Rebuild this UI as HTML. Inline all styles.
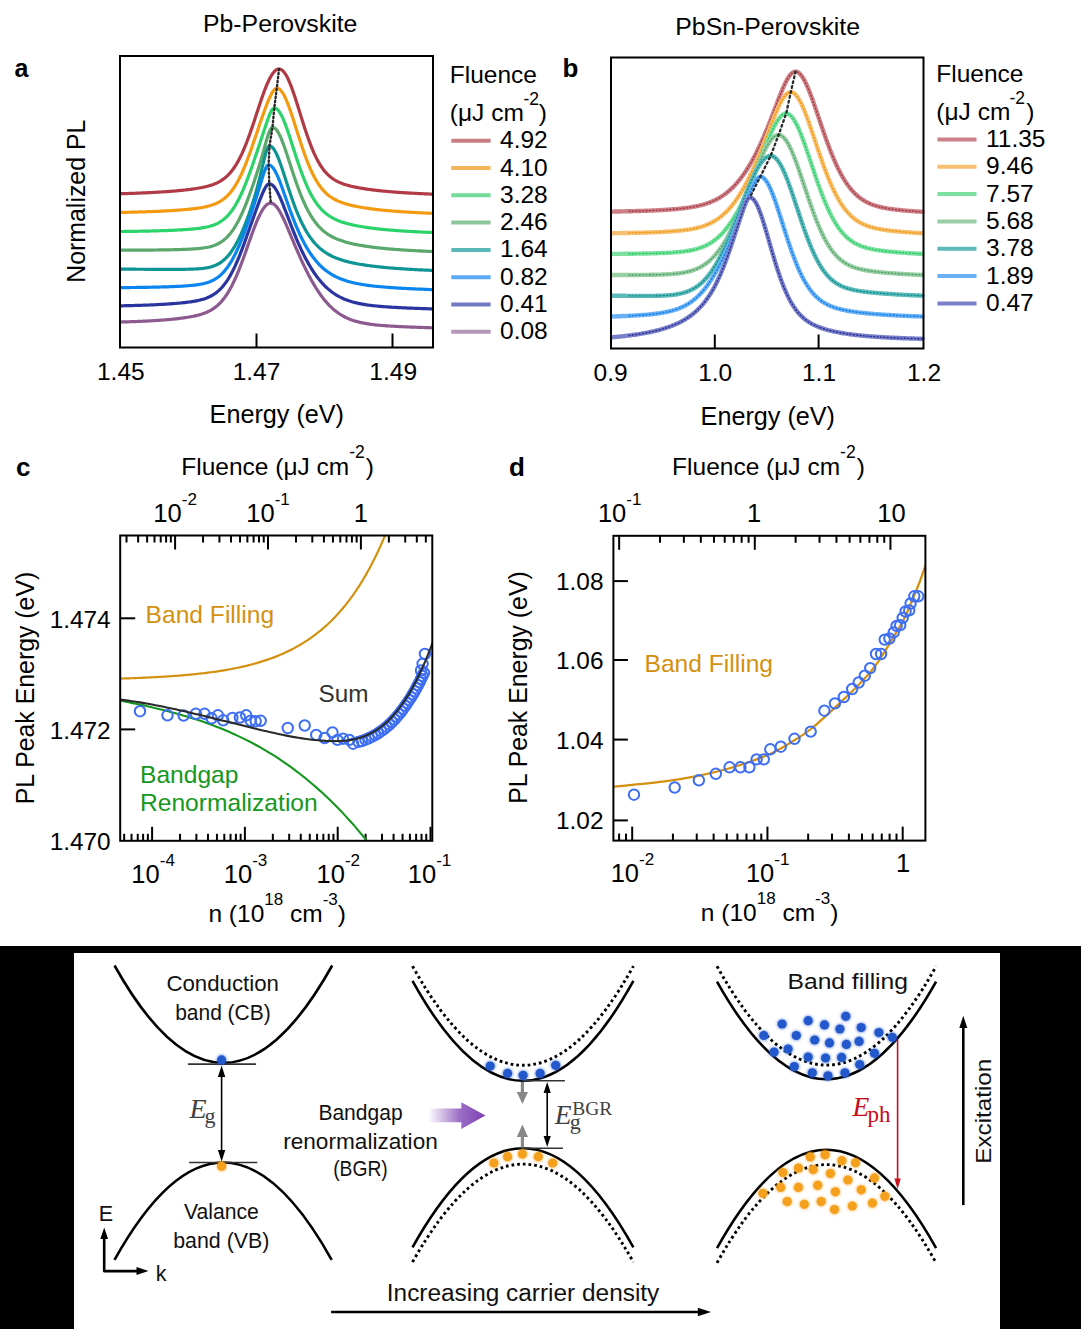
<!DOCTYPE html>
<html><head><meta charset="utf-8"><style>
html,body{margin:0;padding:0;background:#fff;font-family:"Liberation Sans",sans-serif;}
svg{display:block;}

</style></head><body>
<svg font-family="Liberation Sans, sans-serif" width="1081" height="1329" viewBox="0 0 1081 1329">
<rect width="1081" height="1329" fill="#fff"/>
<text x="203.00" y="32.20" font-size="24.8" fill="#000">Pb-Perovskite</text>
<text x="14.50" y="77.00" font-size="25" font-weight="bold" fill="#000">a</text>
<path d="M121.00,193.70 L122.42,193.66 L123.84,193.62 L125.26,193.58 L126.68,193.53 L128.10,193.49 L129.52,193.44 L130.94,193.40 L132.36,193.35 L133.78,193.30 L135.20,193.25 L136.62,193.19 L138.04,193.14 L139.46,193.08 L140.88,193.02 L142.30,192.96 L143.72,192.90 L145.14,192.84 L146.56,192.78 L147.98,192.71 L149.40,192.64 L150.82,192.57 L152.24,192.50 L153.66,192.42 L155.08,192.35 L156.50,192.27 L157.92,192.18 L159.34,192.10 L160.76,192.01 L162.18,191.92 L163.60,191.83 L165.02,191.73 L166.44,191.63 L167.86,191.53 L169.28,191.43 L170.70,191.32 L172.12,191.21 L173.54,191.09 L174.96,190.97 L176.38,190.84 L177.80,190.71 L179.22,190.58 L180.64,190.44 L182.06,190.30 L183.48,190.15 L184.90,190.00 L186.32,189.84 L187.74,189.67 L189.16,189.49 L190.58,189.31 L192.00,189.12 L193.42,188.92 L194.84,188.72 L196.26,188.50 L197.68,188.27 L199.11,188.02 L200.53,187.76 L201.95,187.49 L203.37,187.20 L204.79,186.88 L206.21,186.55 L207.63,186.18 L209.05,185.79 L210.47,185.37 L211.89,184.90 L213.31,184.40 L214.73,183.85 L216.15,183.24 L217.57,182.58 L218.99,181.85 L220.41,181.04 L221.83,180.16 L223.25,179.18 L224.67,178.10 L226.09,176.92 L227.51,175.61 L228.93,174.18 L230.35,172.61 L231.77,170.89 L233.19,169.02 L234.61,166.98 L236.03,164.77 L237.45,162.38 L238.87,159.81 L240.29,157.05 L241.71,154.11 L243.13,150.97 L244.55,147.65 L245.97,144.15 L247.39,140.49 L248.81,136.66 L250.23,132.70 L251.65,128.61 L253.07,124.41 L254.49,120.15 L255.91,115.83 L257.33,111.50 L258.75,107.18 L260.17,102.92 L261.59,98.74 L263.01,94.69 L264.43,90.82 L265.85,87.14 L267.27,83.72 L268.69,80.57 L270.11,77.75 L271.53,75.28 L272.95,73.18 L274.37,71.49 L275.79,70.22 L277.21,69.40 L278.63,69.02 L280.05,69.12 L281.47,69.73 L282.89,70.85 L284.31,72.46 L285.73,74.54 L287.15,77.07 L288.57,80.00 L289.99,83.30 L291.41,86.93 L292.83,90.83 L294.25,94.97 L295.67,99.28 L297.09,103.73 L298.51,108.27 L299.93,112.85 L301.35,117.43 L302.77,121.97 L304.19,126.43 L305.61,130.78 L307.03,134.99 L308.45,139.04 L309.87,142.92 L311.29,146.60 L312.71,150.07 L314.13,153.34 L315.55,156.40 L316.97,159.24 L318.39,161.87 L319.81,164.30 L321.23,166.53 L322.65,168.57 L324.07,170.44 L325.49,172.14 L326.91,173.69 L328.33,175.09 L329.75,176.36 L331.17,177.51 L332.59,178.56 L334.01,179.50 L335.43,180.36 L336.85,181.14 L338.27,181.85 L339.69,182.50 L341.11,183.10 L342.53,183.64 L343.95,184.15 L345.37,184.61 L346.79,185.05 L348.21,185.45 L349.63,185.83 L351.05,186.18 L352.47,186.52 L353.89,186.83 L355.32,187.13 L356.74,187.42 L358.16,187.69 L359.58,187.95 L361.00,188.20 L362.42,188.43 L363.84,188.66 L365.26,188.88 L366.68,189.09 L368.10,189.30 L369.52,189.49 L370.94,189.68 L372.36,189.86 L373.78,190.04 L375.20,190.21 L376.62,190.38 L378.04,190.54 L379.46,190.69 L380.88,190.84 L382.30,190.98 L383.72,191.12 L385.14,191.26 L386.56,191.39 L387.98,191.52 L389.40,191.64 L390.82,191.76 L392.24,191.88 L393.66,191.99 L395.08,192.10 L396.50,192.20 L397.92,192.31 L399.34,192.41 L400.76,192.50 L402.18,192.60 L403.60,192.69 L405.02,192.78 L406.44,192.87 L407.86,192.95 L409.28,193.03 L410.70,193.11 L412.12,193.19 L413.54,193.27 L414.96,193.34 L416.38,193.41 L417.80,193.48 L419.22,193.55 L420.64,193.62 L422.06,193.68 L423.48,193.75 L424.90,193.81 L426.32,193.87 L427.74,193.93 L429.16,193.99 L430.58,194.04 L432.00,194.10" fill="none" stroke="#b03a45" stroke-width="3.2" stroke-linejoin="round" stroke-linecap="round"/>
<path d="M121.00,212.41 L122.42,212.38 L123.84,212.35 L125.26,212.32 L126.68,212.29 L128.10,212.26 L129.52,212.23 L130.94,212.19 L132.36,212.16 L133.78,212.12 L135.20,212.09 L136.62,212.05 L138.04,212.01 L139.46,211.97 L140.88,211.93 L142.30,211.89 L143.72,211.84 L145.14,211.80 L146.56,211.75 L147.98,211.70 L149.40,211.65 L150.82,211.60 L152.24,211.54 L153.66,211.49 L155.08,211.43 L156.50,211.37 L157.92,211.31 L159.34,211.24 L160.76,211.18 L162.18,211.11 L163.60,211.04 L165.02,210.97 L166.44,210.89 L167.86,210.81 L169.28,210.73 L170.70,210.65 L172.12,210.56 L173.54,210.47 L174.96,210.37 L176.38,210.28 L177.80,210.18 L179.22,210.07 L180.64,209.96 L182.06,209.85 L183.48,209.73 L184.90,209.60 L186.32,209.48 L187.74,209.34 L189.16,209.20 L190.58,209.05 L192.00,208.89 L193.42,208.73 L194.84,208.55 L196.26,208.37 L197.68,208.17 L199.11,207.96 L200.53,207.74 L201.95,207.50 L203.37,207.23 L204.79,206.95 L206.21,206.64 L207.63,206.31 L209.05,205.94 L210.47,205.53 L211.89,205.09 L213.31,204.60 L214.73,204.05 L216.15,203.45 L217.57,202.79 L218.99,202.05 L220.41,201.23 L221.83,200.32 L223.25,199.31 L224.67,198.20 L226.09,196.97 L227.51,195.62 L228.93,194.13 L230.35,192.50 L231.77,190.72 L233.19,188.77 L234.61,186.66 L236.03,184.38 L237.45,181.92 L238.87,179.28 L240.29,176.45 L241.71,173.45 L243.13,170.27 L244.55,166.91 L245.97,163.39 L247.39,159.72 L248.81,155.91 L250.23,151.98 L251.65,147.94 L253.07,143.82 L254.49,139.64 L255.91,135.43 L257.33,131.20 L258.75,126.99 L260.17,122.81 L261.59,118.70 L263.01,114.68 L264.43,110.77 L265.85,106.98 L267.27,103.35 L268.69,99.90 L270.11,96.69 L271.53,93.80 L272.95,91.36 L274.37,89.51 L275.79,88.43 L277.21,88.23 L278.63,88.68 L280.05,89.68 L281.47,91.22 L282.89,93.27 L284.31,95.78 L285.73,98.72 L287.15,102.04 L288.57,105.68 L289.99,109.59 L291.41,113.72 L292.83,118.01 L294.25,122.43 L295.67,126.90 L297.09,131.41 L298.51,135.90 L299.93,140.33 L301.35,144.68 L302.77,148.92 L304.19,153.02 L305.61,156.97 L307.03,160.74 L308.45,164.33 L309.87,167.73 L311.29,170.92 L312.71,173.92 L314.13,176.72 L315.55,179.32 L316.97,181.73 L318.39,183.96 L319.81,186.01 L321.23,187.90 L322.65,189.62 L324.07,191.20 L325.49,192.65 L326.91,193.96 L328.33,195.17 L329.75,196.27 L331.17,197.27 L332.59,198.18 L334.01,199.02 L335.43,199.79 L336.85,200.49 L338.27,201.14 L339.69,201.74 L341.11,202.29 L342.53,202.81 L343.95,203.29 L345.37,203.73 L346.79,204.15 L348.21,204.55 L349.63,204.92 L351.05,205.27 L352.47,205.60 L353.89,205.92 L355.32,206.22 L356.74,206.50 L358.16,206.78 L359.58,207.04 L361.00,207.29 L362.42,207.53 L363.84,207.76 L365.26,207.99 L366.68,208.20 L368.10,208.41 L369.52,208.60 L370.94,208.80 L372.36,208.98 L373.78,209.16 L375.20,209.33 L376.62,209.50 L378.04,209.66 L379.46,209.81 L380.88,209.97 L382.30,210.11 L383.72,210.25 L385.14,210.39 L386.56,210.52 L387.98,210.65 L389.40,210.78 L390.82,210.90 L392.24,211.02 L393.66,211.13 L395.08,211.24 L396.50,211.35 L397.92,211.45 L399.34,211.55 L400.76,211.65 L402.18,211.75 L403.60,211.84 L405.02,211.93 L406.44,212.02 L407.86,212.11 L409.28,212.19 L410.70,212.28 L412.12,212.36 L413.54,212.43 L414.96,212.51 L416.38,212.58 L417.80,212.66 L419.22,212.73 L420.64,212.80 L422.06,212.86 L423.48,212.93 L424.90,212.99 L426.32,213.06 L427.74,213.12 L429.16,213.18 L430.58,213.24 L432.00,213.29" fill="none" stroke="#f39a10" stroke-width="3.2" stroke-linejoin="round" stroke-linecap="round"/>
<path d="M121.00,231.51 L122.42,231.49 L123.84,231.48 L125.26,231.46 L126.68,231.44 L128.10,231.42 L129.52,231.40 L130.94,231.38 L132.36,231.36 L133.78,231.34 L135.20,231.32 L136.62,231.29 L138.04,231.27 L139.46,231.25 L140.88,231.22 L142.30,231.19 L143.72,231.16 L145.14,231.13 L146.56,231.10 L147.98,231.07 L149.40,231.04 L150.82,231.00 L152.24,230.97 L153.66,230.93 L155.08,230.89 L156.50,230.85 L157.92,230.81 L159.34,230.77 L160.76,230.72 L162.18,230.68 L163.60,230.63 L165.02,230.58 L166.44,230.53 L167.86,230.47 L169.28,230.41 L170.70,230.35 L172.12,230.29 L173.54,230.23 L174.96,230.16 L176.38,230.09 L177.80,230.02 L179.22,229.94 L180.64,229.86 L182.06,229.78 L183.48,229.69 L184.90,229.60 L186.32,229.51 L187.74,229.40 L189.16,229.30 L190.58,229.18 L192.00,229.06 L193.42,228.93 L194.84,228.79 L196.26,228.64 L197.68,228.47 L199.11,228.30 L200.53,228.10 L201.95,227.89 L203.37,227.66 L204.79,227.41 L206.21,227.12 L207.63,226.81 L209.05,226.46 L210.47,226.07 L211.89,225.64 L213.31,225.15 L214.73,224.61 L216.15,224.00 L217.57,223.32 L218.99,222.56 L220.41,221.72 L221.83,220.78 L223.25,219.73 L224.67,218.57 L226.09,217.29 L227.51,215.87 L228.93,214.32 L230.35,212.62 L231.77,210.76 L233.19,208.74 L234.61,206.55 L236.03,204.19 L237.45,201.65 L238.87,198.94 L240.29,196.06 L241.71,193.00 L243.13,189.78 L244.55,186.40 L245.97,182.87 L247.39,179.20 L248.81,175.40 L250.23,171.50 L251.65,167.50 L253.07,163.42 L254.49,159.28 L255.91,155.09 L257.33,150.87 L258.75,146.62 L260.17,142.34 L261.59,138.06 L263.01,133.76 L264.43,129.46 L265.85,125.18 L267.27,120.99 L268.69,117.00 L270.11,113.41 L271.53,110.51 L272.95,108.61 L274.37,108.00 L275.79,108.34 L277.21,109.28 L278.63,110.80 L280.05,112.85 L281.47,115.39 L282.89,118.38 L284.31,121.75 L285.73,125.44 L287.15,129.39 L288.57,133.54 L289.99,137.83 L291.41,142.22 L292.83,146.64 L294.25,151.07 L295.67,155.46 L297.09,159.78 L298.51,164.00 L299.93,168.10 L301.35,172.06 L302.77,175.86 L304.19,179.49 L305.61,182.94 L307.03,186.21 L308.45,189.29 L309.87,192.18 L311.29,194.89 L312.71,197.42 L314.13,199.77 L315.55,201.95 L316.97,203.96 L318.39,205.83 L319.81,207.55 L321.23,209.13 L322.65,210.58 L324.07,211.92 L325.49,213.15 L326.91,214.27 L328.33,215.31 L329.75,216.26 L331.17,217.14 L332.59,217.95 L334.01,218.70 L335.43,219.39 L336.85,220.03 L338.27,220.63 L339.69,221.18 L341.11,221.70 L342.53,222.18 L343.95,222.64 L345.37,223.07 L346.79,223.47 L348.21,223.85 L349.63,224.21 L351.05,224.55 L352.47,224.88 L353.89,225.19 L355.32,225.48 L356.74,225.76 L358.16,226.03 L359.58,226.29 L361.00,226.54 L362.42,226.78 L363.84,227.01 L365.26,227.23 L366.68,227.44 L368.10,227.64 L369.52,227.84 L370.94,228.03 L372.36,228.21 L373.78,228.39 L375.20,228.56 L376.62,228.72 L378.04,228.88 L379.46,229.04 L380.88,229.19 L382.30,229.33 L383.72,229.47 L385.14,229.60 L386.56,229.74 L387.98,229.86 L389.40,229.99 L390.82,230.11 L392.24,230.22 L393.66,230.34 L395.08,230.45 L396.50,230.55 L397.92,230.66 L399.34,230.76 L400.76,230.85 L402.18,230.95 L403.60,231.04 L405.02,231.13 L406.44,231.22 L407.86,231.31 L409.28,231.39 L410.70,231.47 L412.12,231.55 L413.54,231.63 L414.96,231.71 L416.38,231.78 L417.80,231.85 L419.22,231.92 L420.64,231.99 L422.06,232.06 L423.48,232.13 L424.90,232.19 L426.32,232.25 L427.74,232.32 L429.16,232.38 L430.58,232.43 L432.00,232.49" fill="none" stroke="#2bd36a" stroke-width="3.2" stroke-linejoin="round" stroke-linecap="round"/>
<path d="M121.00,250.21 L122.42,250.21 L123.84,250.21 L125.26,250.20 L126.68,250.20 L128.10,250.20 L129.52,250.19 L130.94,250.19 L132.36,250.18 L133.78,250.18 L135.20,250.17 L136.62,250.17 L138.04,250.16 L139.46,250.15 L140.88,250.14 L142.30,250.14 L143.72,250.13 L145.14,250.12 L146.56,250.10 L147.98,250.09 L149.40,250.08 L150.82,250.07 L152.24,250.05 L153.66,250.04 L155.08,250.02 L156.50,250.00 L157.92,249.99 L159.34,249.97 L160.76,249.95 L162.18,249.93 L163.60,249.90 L165.02,249.88 L166.44,249.85 L167.86,249.83 L169.28,249.80 L170.70,249.77 L172.12,249.74 L173.54,249.71 L174.96,249.67 L176.38,249.63 L177.80,249.60 L179.22,249.55 L180.64,249.51 L182.06,249.46 L183.48,249.41 L184.90,249.36 L186.32,249.30 L187.74,249.24 L189.16,249.17 L190.58,249.10 L192.00,249.02 L193.42,248.93 L194.84,248.83 L196.26,248.73 L197.68,248.61 L199.11,248.47 L200.53,248.33 L201.95,248.16 L203.37,247.97 L204.79,247.76 L206.21,247.52 L207.63,247.25 L209.05,246.94 L210.47,246.59 L211.89,246.19 L213.31,245.74 L214.73,245.23 L216.15,244.65 L217.57,244.00 L218.99,243.27 L220.41,242.44 L221.83,241.52 L223.25,240.49 L224.67,239.35 L226.09,238.08 L227.51,236.68 L228.93,235.13 L230.35,233.44 L231.77,231.59 L233.19,229.59 L234.61,227.42 L236.03,225.07 L237.45,222.56 L238.87,219.88 L240.29,217.03 L241.71,214.02 L243.13,210.84 L244.55,207.51 L245.97,204.04 L247.39,200.42 L248.81,196.68 L250.23,192.81 L251.65,188.83 L253.07,184.74 L254.49,180.55 L255.91,176.25 L257.33,171.84 L258.75,167.30 L260.17,162.63 L261.59,157.81 L263.01,152.84 L264.43,147.76 L265.85,142.66 L267.27,137.73 L268.69,133.30 L270.11,129.80 L271.53,127.72 L272.95,127.34 L274.37,127.88 L275.79,129.05 L277.21,130.82 L278.63,133.14 L280.05,135.96 L281.47,139.20 L282.89,142.80 L284.31,146.69 L285.73,150.80 L287.15,155.05 L288.57,159.41 L289.99,163.80 L291.41,168.19 L292.83,172.54 L294.25,176.81 L295.67,180.98 L297.09,185.02 L298.51,188.92 L299.93,192.66 L301.35,196.24 L302.77,199.65 L304.19,202.88 L305.61,205.93 L307.03,208.80 L308.45,211.51 L309.87,214.04 L311.29,216.41 L312.71,218.61 L314.13,220.67 L315.55,222.58 L316.97,224.35 L318.39,225.99 L319.81,227.51 L321.23,228.92 L322.65,230.22 L324.07,231.43 L325.49,232.54 L326.91,233.57 L328.33,234.52 L329.75,235.41 L331.17,236.23 L332.59,236.99 L334.01,237.70 L335.43,238.36 L336.85,238.98 L338.27,239.56 L339.69,240.10 L341.11,240.60 L342.53,241.08 L343.95,241.53 L345.37,241.96 L346.79,242.36 L348.21,242.74 L349.63,243.10 L351.05,243.44 L352.47,243.77 L353.89,244.08 L355.32,244.38 L356.74,244.66 L358.16,244.94 L359.58,245.20 L361.00,245.45 L362.42,245.69 L363.84,245.92 L365.26,246.14 L366.68,246.35 L368.10,246.56 L369.52,246.76 L370.94,246.95 L372.36,247.13 L373.78,247.31 L375.20,247.48 L376.62,247.65 L378.04,247.81 L379.46,247.97 L380.88,248.12 L382.30,248.26 L383.72,248.40 L385.14,248.54 L386.56,248.67 L387.98,248.80 L389.40,248.93 L390.82,249.05 L392.24,249.17 L393.66,249.28 L395.08,249.39 L396.50,249.50 L397.92,249.60 L399.34,249.71 L400.76,249.81 L402.18,249.90 L403.60,250.00 L405.02,250.09 L406.44,250.18 L407.86,250.27 L409.28,250.35 L410.70,250.44 L412.12,250.52 L413.54,250.60 L414.96,250.68 L416.38,250.75 L417.80,250.83 L419.22,250.90 L420.64,250.97 L422.06,251.04 L423.48,251.11 L424.90,251.18 L426.32,251.24 L427.74,251.31 L429.16,251.37 L430.58,251.43 L432.00,251.49" fill="none" stroke="#5aa86c" stroke-width="3.2" stroke-linejoin="round" stroke-linecap="round"/>
<path d="M121.00,269.11 L122.42,269.12 L123.84,269.13 L125.26,269.15 L126.68,269.16 L128.10,269.17 L129.52,269.18 L130.94,269.19 L132.36,269.20 L133.78,269.21 L135.20,269.22 L136.62,269.23 L138.04,269.24 L139.46,269.25 L140.88,269.26 L142.30,269.27 L143.72,269.27 L145.14,269.28 L146.56,269.29 L147.98,269.30 L149.40,269.31 L150.82,269.31 L152.24,269.32 L153.66,269.33 L155.08,269.33 L156.50,269.34 L157.92,269.34 L159.34,269.35 L160.76,269.35 L162.18,269.35 L163.60,269.36 L165.02,269.36 L166.44,269.36 L167.86,269.36 L169.28,269.36 L170.70,269.36 L172.12,269.36 L173.54,269.36 L174.96,269.36 L176.38,269.35 L177.80,269.35 L179.22,269.34 L180.64,269.33 L182.06,269.32 L183.48,269.31 L184.90,269.29 L186.32,269.27 L187.74,269.24 L189.16,269.21 L190.58,269.18 L192.00,269.13 L193.42,269.08 L194.84,269.02 L196.26,268.95 L197.68,268.87 L199.11,268.77 L200.53,268.65 L201.95,268.51 L203.37,268.35 L204.79,268.15 L206.21,267.93 L207.63,267.67 L209.05,267.36 L210.47,267.01 L211.89,266.61 L213.31,266.14 L214.73,265.61 L216.15,264.99 L217.57,264.30 L218.99,263.52 L220.41,262.63 L221.83,261.64 L223.25,260.53 L224.67,259.29 L226.09,257.92 L227.51,256.41 L228.93,254.75 L230.35,252.94 L231.77,250.97 L233.19,248.84 L234.61,246.54 L236.03,244.08 L237.45,241.44 L238.87,238.64 L240.29,235.67 L241.71,232.54 L243.13,229.25 L244.55,225.81 L245.97,222.21 L247.39,218.45 L248.81,214.55 L250.23,210.48 L251.65,206.25 L253.07,201.84 L254.49,197.22 L255.91,192.37 L257.33,187.26 L258.75,181.86 L260.17,176.17 L261.59,170.21 L263.01,164.13 L264.43,158.19 L265.85,152.82 L267.27,148.64 L268.69,146.27 L270.11,145.97 L271.53,146.63 L272.95,147.96 L274.37,149.91 L275.79,152.44 L277.21,155.47 L278.63,158.92 L280.05,162.71 L281.47,166.77 L282.89,171.01 L284.31,175.37 L285.73,179.78 L287.15,184.19 L288.57,188.55 L289.99,192.84 L291.41,197.02 L292.83,201.06 L294.25,204.96 L295.67,208.70 L297.09,212.27 L298.51,215.67 L299.93,218.90 L301.35,221.95 L302.77,224.84 L304.19,227.56 L305.61,230.11 L307.03,232.51 L308.45,234.76 L309.87,236.87 L311.29,238.84 L312.71,240.68 L314.13,242.39 L315.55,243.99 L316.97,245.48 L318.39,246.87 L319.81,248.16 L321.23,249.37 L322.65,250.49 L324.07,251.53 L325.49,252.50 L326.91,253.41 L328.33,254.25 L329.75,255.04 L331.17,255.78 L332.59,256.47 L334.01,257.12 L335.43,257.73 L336.85,258.30 L338.27,258.83 L339.69,259.34 L341.11,259.82 L342.53,260.27 L343.95,260.69 L345.37,261.10 L346.79,261.48 L348.21,261.85 L349.63,262.19 L351.05,262.52 L352.47,262.84 L353.89,263.14 L355.32,263.43 L356.74,263.70 L358.16,263.96 L359.58,264.22 L361.00,264.46 L362.42,264.69 L363.84,264.92 L365.26,265.13 L366.68,265.34 L368.10,265.54 L369.52,265.73 L370.94,265.92 L372.36,266.10 L373.78,266.27 L375.20,266.44 L376.62,266.60 L378.04,266.76 L379.46,266.91 L380.88,267.06 L382.30,267.20 L383.72,267.34 L385.14,267.47 L386.56,267.60 L387.98,267.73 L389.40,267.85 L390.82,267.97 L392.24,268.08 L393.66,268.20 L395.08,268.31 L396.50,268.41 L397.92,268.52 L399.34,268.62 L400.76,268.72 L402.18,268.81 L403.60,268.90 L405.02,269.00 L406.44,269.08 L407.86,269.17 L409.28,269.26 L410.70,269.34 L412.12,269.42 L413.54,269.50 L414.96,269.58 L416.38,269.65 L417.80,269.73 L419.22,269.80 L420.64,269.87 L422.06,269.94 L423.48,270.01 L424.90,270.07 L426.32,270.14 L427.74,270.20 L429.16,270.27 L430.58,270.33 L432.00,270.39" fill="none" stroke="#0f9494" stroke-width="3.2" stroke-linejoin="round" stroke-linecap="round"/>
<path d="M121.00,287.61 L122.42,287.60 L123.84,287.59 L125.26,287.58 L126.68,287.56 L128.10,287.55 L129.52,287.54 L130.94,287.52 L132.36,287.51 L133.78,287.49 L135.20,287.48 L136.62,287.46 L138.04,287.44 L139.46,287.42 L140.88,287.40 L142.30,287.38 L143.72,287.36 L145.14,287.34 L146.56,287.31 L147.98,287.29 L149.40,287.26 L150.82,287.23 L152.24,287.20 L153.66,287.17 L155.08,287.14 L156.50,287.11 L157.92,287.08 L159.34,287.04 L160.76,287.00 L162.18,286.96 L163.60,286.92 L165.02,286.88 L166.44,286.83 L167.86,286.78 L169.28,286.73 L170.70,286.68 L172.12,286.63 L173.54,286.57 L174.96,286.51 L176.38,286.45 L177.80,286.38 L179.22,286.31 L180.64,286.23 L182.06,286.15 L183.48,286.07 L184.90,285.98 L186.32,285.88 L187.74,285.77 L189.16,285.66 L190.58,285.53 L192.00,285.40 L193.42,285.25 L194.84,285.08 L196.26,284.90 L197.68,284.70 L199.11,284.48 L200.53,284.23 L201.95,283.95 L203.37,283.64 L204.79,283.29 L206.21,282.90 L207.63,282.46 L209.05,281.97 L210.47,281.41 L211.89,280.79 L213.31,280.10 L214.73,279.32 L216.15,278.44 L217.57,277.48 L218.99,276.40 L220.41,275.21 L221.83,273.89 L223.25,272.44 L224.67,270.85 L226.09,269.12 L227.51,267.23 L228.93,265.18 L230.35,262.97 L231.77,260.59 L233.19,258.05 L234.61,255.34 L236.03,252.47 L237.45,249.44 L238.87,246.25 L240.29,242.91 L241.71,239.44 L243.13,235.83 L244.55,232.10 L245.97,228.27 L247.39,224.33 L248.81,220.31 L250.23,216.20 L251.65,212.01 L253.07,207.73 L254.49,203.37 L255.91,198.92 L257.33,194.36 L258.75,189.70 L260.17,184.95 L261.59,180.19 L263.01,175.57 L264.43,171.35 L265.85,167.89 L267.27,165.62 L268.69,164.90 L270.11,165.26 L271.53,166.22 L272.95,167.76 L274.37,169.83 L275.79,172.37 L277.21,175.33 L278.63,178.62 L280.05,182.19 L281.47,185.97 L282.89,189.89 L284.31,193.91 L285.73,197.96 L287.15,202.01 L288.57,206.03 L289.99,209.98 L291.41,213.85 L292.83,217.61 L294.25,221.26 L295.67,224.79 L297.09,228.18 L298.51,231.45 L299.93,234.57 L301.35,237.56 L302.77,240.41 L304.19,243.12 L305.61,245.70 L307.03,248.16 L308.45,250.48 L309.87,252.69 L311.29,254.78 L312.71,256.75 L314.13,258.61 L315.55,260.37 L316.97,262.03 L318.39,263.60 L319.81,265.07 L321.23,266.46 L322.65,267.76 L324.07,268.99 L325.49,270.14 L326.91,271.23 L328.33,272.24 L329.75,273.20 L331.17,274.10 L332.59,274.94 L334.01,275.73 L335.43,276.47 L336.85,277.17 L338.27,277.83 L339.69,278.44 L341.11,279.02 L342.53,279.56 L343.95,280.07 L345.37,280.55 L346.79,281.00 L348.21,281.42 L349.63,281.82 L351.05,282.20 L352.47,282.55 L353.89,282.88 L355.32,283.20 L356.74,283.50 L358.16,283.78 L359.58,284.04 L361.00,284.29 L362.42,284.53 L363.84,284.76 L365.26,284.97 L366.68,285.18 L368.10,285.37 L369.52,285.56 L370.94,285.73 L372.36,285.90 L373.78,286.06 L375.20,286.22 L376.62,286.37 L378.04,286.51 L379.46,286.64 L380.88,286.77 L382.30,286.90 L383.72,287.02 L385.14,287.14 L386.56,287.25 L387.98,287.36 L389.40,287.46 L390.82,287.57 L392.24,287.67 L393.66,287.76 L395.08,287.85 L396.50,287.94 L397.92,288.03 L399.34,288.12 L400.76,288.20 L402.18,288.28 L403.60,288.36 L405.02,288.43 L406.44,288.51 L407.86,288.58 L409.28,288.65 L410.70,288.72 L412.12,288.79 L413.54,288.85 L414.96,288.92 L416.38,288.98 L417.80,289.04 L419.22,289.10 L420.64,289.16 L422.06,289.22 L423.48,289.27 L424.90,289.33 L426.32,289.38 L427.74,289.44 L429.16,289.49 L430.58,289.54 L432.00,289.59" fill="none" stroke="#0a85f0" stroke-width="3.2" stroke-linejoin="round" stroke-linecap="round"/>
<path d="M121.00,305.81 L122.42,305.78 L123.84,305.75 L125.26,305.72 L126.68,305.69 L128.10,305.65 L129.52,305.62 L130.94,305.58 L132.36,305.55 L133.78,305.51 L135.20,305.47 L136.62,305.43 L138.04,305.38 L139.46,305.34 L140.88,305.29 L142.30,305.25 L143.72,305.20 L145.14,305.15 L146.56,305.09 L147.98,305.04 L149.40,304.98 L150.82,304.92 L152.24,304.86 L153.66,304.80 L155.08,304.73 L156.50,304.66 L157.92,304.59 L159.34,304.52 L160.76,304.44 L162.18,304.36 L163.60,304.28 L165.02,304.20 L166.44,304.11 L167.86,304.02 L169.28,303.92 L170.70,303.82 L172.12,303.72 L173.54,303.61 L174.96,303.50 L176.38,303.38 L177.80,303.26 L179.22,303.13 L180.64,303.00 L182.06,302.86 L183.48,302.71 L184.90,302.55 L186.32,302.39 L187.74,302.21 L189.16,302.02 L190.58,301.82 L192.00,301.61 L193.42,301.38 L194.84,301.13 L196.26,300.86 L197.68,300.57 L199.11,300.25 L200.53,299.91 L201.95,299.52 L203.37,299.11 L204.79,298.65 L206.21,298.14 L207.63,297.58 L209.05,296.96 L210.47,296.27 L211.89,295.51 L213.31,294.67 L214.73,293.74 L216.15,292.72 L217.57,291.59 L218.99,290.34 L220.41,288.98 L221.83,287.48 L223.25,285.84 L224.67,284.06 L226.09,282.13 L227.51,280.04 L228.93,277.78 L230.35,275.36 L231.77,272.77 L233.19,270.00 L234.61,267.08 L236.03,263.99 L237.45,260.74 L238.87,257.34 L240.29,253.80 L241.71,250.14 L243.13,246.37 L244.55,242.50 L245.97,238.56 L247.39,234.56 L248.81,230.53 L250.23,226.48 L251.65,222.43 L253.07,218.41 L254.49,214.43 L255.91,210.50 L257.33,206.63 L258.75,202.85 L260.17,199.16 L261.59,195.62 L263.01,192.27 L264.43,189.24 L265.85,186.69 L267.27,184.84 L268.69,183.89 L270.11,183.89 L271.53,184.48 L272.95,185.58 L274.37,187.17 L275.79,189.20 L277.21,191.63 L278.63,194.40 L280.05,197.46 L281.47,200.75 L282.89,204.20 L284.31,207.79 L285.73,211.46 L287.15,215.17 L288.57,218.89 L289.99,222.59 L291.41,226.26 L292.83,229.87 L294.25,233.42 L295.67,236.88 L297.09,240.26 L298.51,243.54 L299.93,246.72 L301.35,249.80 L302.77,252.78 L304.19,255.65 L305.61,258.41 L307.03,261.07 L308.45,263.62 L309.87,266.06 L311.29,268.40 L312.71,270.64 L314.13,272.78 L315.55,274.82 L316.97,276.77 L318.39,278.61 L319.81,280.37 L321.23,282.04 L322.65,283.62 L324.07,285.12 L325.49,286.54 L326.91,287.87 L328.33,289.14 L329.75,290.33 L331.17,291.45 L332.59,292.51 L334.01,293.50 L335.43,294.43 L336.85,295.31 L338.27,296.13 L339.69,296.90 L341.11,297.61 L342.53,298.29 L343.95,298.92 L345.37,299.51 L346.79,300.05 L348.21,300.57 L349.63,301.05 L351.05,301.49 L352.47,301.91 L353.89,302.30 L355.32,302.67 L356.74,303.01 L358.16,303.32 L359.58,303.62 L361.00,303.90 L362.42,304.16 L363.84,304.40 L365.26,304.63 L366.68,304.84 L368.10,305.05 L369.52,305.23 L370.94,305.41 L372.36,305.58 L373.78,305.74 L375.20,305.89 L376.62,306.03 L378.04,306.17 L379.46,306.30 L380.88,306.42 L382.30,306.54 L383.72,306.65 L385.14,306.76 L386.56,306.86 L387.98,306.96 L389.40,307.05 L390.82,307.14 L392.24,307.23 L393.66,307.31 L395.08,307.39 L396.50,307.47 L397.92,307.55 L399.34,307.62 L400.76,307.70 L402.18,307.77 L403.60,307.83 L405.02,307.90 L406.44,307.96 L407.86,308.03 L409.28,308.09 L410.70,308.15 L412.12,308.20 L413.54,308.26 L414.96,308.31 L416.38,308.37 L417.80,308.42 L419.22,308.47 L420.64,308.52 L422.06,308.57 L423.48,308.62 L424.90,308.67 L426.32,308.71 L427.74,308.76 L429.16,308.80 L430.58,308.85 L432.00,308.89" fill="none" stroke="#2a35a0" stroke-width="3.2" stroke-linejoin="round" stroke-linecap="round"/>
<path d="M121.00,322.01 L122.42,321.97 L123.84,321.94 L125.26,321.89 L126.68,321.85 L128.10,321.81 L129.52,321.76 L130.94,321.72 L132.36,321.67 L133.78,321.62 L135.20,321.56 L136.62,321.51 L138.04,321.45 L139.46,321.39 L140.88,321.33 L142.30,321.27 L143.72,321.20 L145.14,321.13 L146.56,321.06 L147.98,320.99 L149.40,320.91 L150.82,320.84 L152.24,320.75 L153.66,320.67 L155.08,320.58 L156.50,320.49 L157.92,320.40 L159.34,320.30 L160.76,320.20 L162.18,320.09 L163.60,319.98 L165.02,319.87 L166.44,319.75 L167.86,319.63 L169.28,319.50 L170.70,319.37 L172.12,319.23 L173.54,319.09 L174.96,318.94 L176.38,318.79 L177.80,318.62 L179.22,318.46 L180.64,318.28 L182.06,318.09 L183.48,317.90 L184.90,317.70 L186.32,317.48 L187.74,317.26 L189.16,317.02 L190.58,316.77 L192.00,316.50 L193.42,316.22 L194.84,315.91 L196.26,315.58 L197.68,315.23 L199.11,314.86 L200.53,314.45 L201.95,314.01 L203.37,313.52 L204.79,313.00 L206.21,312.43 L207.63,311.80 L209.05,311.12 L210.47,310.36 L211.89,309.54 L213.31,308.63 L214.73,307.64 L216.15,306.55 L217.57,305.36 L218.99,304.05 L220.41,302.62 L221.83,301.06 L223.25,299.36 L224.67,297.51 L226.09,295.51 L227.51,293.35 L228.93,291.03 L230.35,288.54 L231.77,285.88 L233.19,283.04 L234.61,280.04 L236.03,276.87 L237.45,273.54 L238.87,270.06 L240.29,266.45 L241.71,262.70 L243.13,258.85 L244.55,254.92 L245.97,250.92 L247.39,246.88 L248.81,242.84 L250.23,238.81 L251.65,234.84 L253.07,230.96 L254.49,227.19 L255.91,223.59 L257.33,220.17 L258.75,216.99 L260.17,214.06 L261.59,211.43 L263.01,209.11 L264.43,207.15 L265.85,205.55 L267.27,204.34 L268.69,203.53 L270.11,203.14 L271.53,203.17 L272.95,203.64 L274.37,204.56 L275.79,205.89 L277.21,207.61 L278.63,209.67 L280.05,212.04 L281.47,214.67 L282.89,217.51 L284.31,220.53 L285.73,223.69 L287.15,226.94 L288.57,230.27 L289.99,233.63 L291.41,237.02 L292.83,240.41 L294.25,243.78 L295.67,247.13 L297.09,250.43 L298.51,253.69 L299.93,256.90 L301.35,260.04 L302.77,263.11 L304.19,266.12 L305.61,269.05 L307.03,271.90 L308.45,274.67 L309.87,277.36 L311.29,279.96 L312.71,282.48 L314.13,284.90 L315.55,287.24 L316.97,289.50 L318.39,291.66 L319.81,293.73 L321.23,295.71 L322.65,297.60 L324.07,299.41 L325.49,301.13 L326.91,302.77 L328.33,304.32 L329.75,305.79 L331.17,307.18 L332.59,308.49 L334.01,309.73 L335.43,310.89 L336.85,311.98 L338.27,313.01 L339.69,313.98 L341.11,314.88 L342.53,315.72 L343.95,316.51 L345.37,317.24 L346.79,317.93 L348.21,318.56 L349.63,319.15 L351.05,319.70 L352.47,320.21 L353.89,320.69 L355.32,321.13 L356.74,321.54 L358.16,321.92 L359.58,322.27 L361.00,322.59 L362.42,322.89 L363.84,323.17 L365.26,323.43 L366.68,323.68 L368.10,323.90 L369.52,324.11 L370.94,324.31 L372.36,324.49 L373.78,324.66 L375.20,324.82 L376.62,324.97 L378.04,325.11 L379.46,325.24 L380.88,325.37 L382.30,325.49 L383.72,325.60 L385.14,325.71 L386.56,325.81 L387.98,325.90 L389.40,326.00 L390.82,326.08 L392.24,326.17 L393.66,326.25 L395.08,326.33 L396.50,326.41 L397.92,326.48 L399.34,326.55 L400.76,326.62 L402.18,326.69 L403.60,326.75 L405.02,326.81 L406.44,326.88 L407.86,326.94 L409.28,326.99 L410.70,327.05 L412.12,327.11 L413.54,327.16 L414.96,327.22 L416.38,327.27 L417.80,327.32 L419.22,327.37 L420.64,327.42 L422.06,327.47 L423.48,327.52 L424.90,327.56 L426.32,327.61 L427.74,327.65 L429.16,327.70 L430.58,327.74 L432.00,327.79" fill="none" stroke="#8d5a90" stroke-width="3.2" stroke-linejoin="round" stroke-linecap="round"/>
<path d="M279.10,69.00 L276.80,88.20 L274.30,108.00 L272.50,127.30 L269.50,145.90 L268.60,164.90 L269.30,183.80 L270.80,203.10" fill="none" stroke="#2a2a2a" stroke-width="2.4" stroke-linejoin="round" stroke-linecap="round" stroke-dasharray="1.4 2.6" stroke-linecap="butt"/>
<rect x="120" y="56" width="313" height="291.5" fill="none" stroke="#000" stroke-width="2"/>
<line x1="256.50" y1="347.50" x2="256.50" y2="333.50" stroke="#000" stroke-width="2"/>
<line x1="392.50" y1="347.50" x2="392.50" y2="333.50" stroke="#000" stroke-width="2"/>
<text x="120.80" y="379.50" font-size="24.5" text-anchor="middle" fill="#000">1.45</text>
<text x="256.50" y="379.50" font-size="24.5" text-anchor="middle" fill="#000">1.47</text>
<text x="393.20" y="379.50" font-size="24.5" text-anchor="middle" fill="#000">1.49</text>
<text x="276.80" y="422.60" font-size="25.2" text-anchor="middle" fill="#000">Energy (eV)</text>
<text x="0.00" y="0.00" font-size="24.9" text-anchor="middle" fill="#000" transform="translate(84.8,201.2) rotate(-90)">Normalized PL</text>
<text x="449.80" y="83.00" font-size="24.5" fill="#000">Fluence</text>
<text x="449.80" y="121.00" font-size="24.5" fill="#000">(μJ cm</text>
<text x="523.50" y="104.50" font-size="17.5" fill="#000">-2</text>
<text x="538.70" y="121.00" font-size="24.5" fill="#000">)</text>
<line x1="451.30" y1="140.80" x2="490.60" y2="140.80" stroke="#c97d82" stroke-width="4"/>
<text x="500.00" y="148.30" font-size="24.5" fill="#000">4.92</text>
<line x1="451.30" y1="168.07" x2="490.60" y2="168.07" stroke="#f5b55a" stroke-width="4"/>
<text x="500.00" y="175.57" font-size="24.5" fill="#000">4.10</text>
<line x1="451.30" y1="195.34" x2="490.60" y2="195.34" stroke="#72dc98" stroke-width="4"/>
<text x="500.00" y="202.84" font-size="24.5" fill="#000">3.28</text>
<line x1="451.30" y1="222.61" x2="490.60" y2="222.61" stroke="#8fc59a" stroke-width="4"/>
<text x="500.00" y="230.11" font-size="24.5" fill="#000">2.46</text>
<line x1="451.30" y1="249.88" x2="490.60" y2="249.88" stroke="#5ab8b8" stroke-width="4"/>
<text x="500.00" y="257.38" font-size="24.5" fill="#000">1.64</text>
<line x1="451.30" y1="277.15" x2="490.60" y2="277.15" stroke="#5aaaf5" stroke-width="4"/>
<text x="500.00" y="284.65" font-size="24.5" fill="#000">0.82</text>
<line x1="451.30" y1="304.42" x2="490.60" y2="304.42" stroke="#7278c2" stroke-width="4"/>
<text x="500.00" y="311.92" font-size="24.5" fill="#000">0.41</text>
<line x1="451.30" y1="331.69" x2="490.60" y2="331.69" stroke="#b596b8" stroke-width="4"/>
<text x="500.00" y="339.19" font-size="24.5" fill="#000">0.08</text>
<text x="675.30" y="35.30" font-size="24.8" fill="#000">PbSn-Perovskite</text>
<text x="562.50" y="77.00" font-size="26" font-weight="bold" fill="#000">b</text>
<path d="M612.00,211.61 L613.42,211.58 L614.84,211.55 L616.25,211.53 L617.67,211.50 L619.09,211.47 L620.51,211.44 L621.92,211.41 L623.34,211.38 L624.76,211.35 L626.18,211.32 L627.60,211.29 L629.01,211.25 L630.43,211.22 L631.85,211.18 L633.27,211.14 L634.68,211.10 L636.10,211.06 L637.52,211.02 L638.94,210.98 L640.36,210.93 L641.77,210.89 L643.19,210.84 L644.61,210.79 L646.03,210.74 L647.45,210.69 L648.86,210.64 L650.28,210.58 L651.70,210.52 L653.12,210.46 L654.53,210.40 L655.95,210.34 L657.37,210.27 L658.79,210.20 L660.21,210.13 L661.62,210.05 L663.04,209.97 L664.46,209.89 L665.88,209.80 L667.29,209.71 L668.71,209.62 L670.13,209.52 L671.55,209.42 L672.97,209.31 L674.38,209.20 L675.80,209.08 L677.22,208.95 L678.64,208.81 L680.05,208.67 L681.47,208.52 L682.89,208.37 L684.31,208.20 L685.73,208.02 L687.14,207.83 L688.56,207.63 L689.98,207.42 L691.40,207.19 L692.82,206.95 L694.23,206.69 L695.65,206.41 L697.07,206.12 L698.49,205.81 L699.90,205.47 L701.32,205.11 L702.74,204.73 L704.16,204.32 L705.58,203.89 L706.99,203.42 L708.41,202.93 L709.83,202.40 L711.25,201.83 L712.66,201.23 L714.08,200.59 L715.50,199.90 L716.92,199.18 L718.34,198.40 L719.75,197.58 L721.17,196.71 L722.59,195.78 L724.01,194.80 L725.42,193.77 L726.84,192.67 L728.26,191.50 L729.68,190.28 L731.10,188.99 L732.51,187.62 L733.93,186.19 L735.35,184.68 L736.77,183.10 L738.18,181.44 L739.60,179.70 L741.02,177.88 L742.44,175.98 L743.86,173.99 L745.27,171.92 L746.69,169.76 L748.11,167.51 L749.53,165.17 L750.95,162.74 L752.36,160.22 L753.78,157.61 L755.20,154.91 L756.62,152.12 L758.03,149.23 L759.45,146.25 L760.87,143.18 L762.29,140.02 L763.71,136.77 L765.12,133.43 L766.54,130.02 L767.96,126.53 L769.38,122.97 L770.79,119.34 L772.21,115.67 L773.63,111.96 L775.05,108.23 L776.47,104.50 L777.88,100.79 L779.30,97.13 L780.72,93.56 L782.14,90.11 L783.55,86.82 L784.97,83.73 L786.39,80.90 L787.81,78.37 L789.23,76.18 L790.64,74.38 L792.06,73.00 L793.48,72.08 L794.90,71.64 L796.32,71.68 L797.73,72.19 L799.15,73.15 L800.57,74.55 L801.99,76.37 L803.40,78.59 L804.82,81.16 L806.24,84.05 L807.66,87.23 L809.08,90.65 L810.49,94.29 L811.91,98.10 L813.33,102.05 L814.75,106.11 L816.16,110.23 L817.58,114.41 L819.00,118.60 L820.42,122.79 L821.84,126.96 L823.25,131.08 L824.67,135.14 L826.09,139.13 L827.51,143.03 L828.92,146.82 L830.34,150.51 L831.76,154.08 L833.18,157.52 L834.60,160.84 L836.01,164.02 L837.43,167.06 L838.85,169.96 L840.27,172.72 L841.68,175.35 L843.10,177.83 L844.52,180.18 L845.94,182.39 L847.36,184.47 L848.77,186.43 L850.19,188.26 L851.61,189.97 L853.03,191.56 L854.45,193.05 L855.86,194.43 L857.28,195.72 L858.70,196.91 L860.12,198.01 L861.53,199.02 L862.95,199.97 L864.37,200.83 L865.79,201.64 L867.21,202.37 L868.62,203.06 L870.04,203.68 L871.46,204.26 L872.88,204.80 L874.29,205.29 L875.71,205.74 L877.13,206.16 L878.55,206.55 L879.97,206.91 L881.38,207.24 L882.80,207.55 L884.22,207.84 L885.64,208.11 L887.05,208.36 L888.47,208.60 L889.89,208.82 L891.31,209.03 L892.73,209.22 L894.14,209.41 L895.56,209.58 L896.98,209.75 L898.40,209.91 L899.82,210.06 L901.23,210.20 L902.65,210.34 L904.07,210.47 L905.49,210.59 L906.90,210.71 L908.32,210.83 L909.74,210.94 L911.16,211.05 L912.58,211.15 L913.99,211.26 L915.41,211.35 L916.83,211.45 L918.25,211.54 L919.66,211.63 L921.08,211.71 L922.50,211.79" fill="none" stroke="#cc8088" stroke-width="4.4" stroke-linejoin="round" stroke-linecap="round"/>
<path d="M629.01,211.25 L630.43,211.22 L631.85,211.18 L633.27,211.14 L634.68,211.10 L636.10,211.06 L637.52,211.02 L638.94,210.98 L640.36,210.93 L641.77,210.89 L643.19,210.84 L644.61,210.79 L646.03,210.74 L647.45,210.69 L648.86,210.64 L650.28,210.58 L651.70,210.52 L653.12,210.46 L654.53,210.40 L655.95,210.34 L657.37,210.27 L658.79,210.20 L660.21,210.13 L661.62,210.05 L663.04,209.97 L664.46,209.89 L665.88,209.80 L667.29,209.71 L668.71,209.62 L670.13,209.52 L671.55,209.42 L672.97,209.31 L674.38,209.20 L675.80,209.08 L677.22,208.95 L678.64,208.81 L680.05,208.67 L681.47,208.52 L682.89,208.37 L684.31,208.20 L685.73,208.02 L687.14,207.83 L688.56,207.63 L689.98,207.42 L691.40,207.19 L692.82,206.95 L694.23,206.69 L695.65,206.41 L697.07,206.12 L698.49,205.81 L699.90,205.47 L701.32,205.11 L702.74,204.73 L704.16,204.32 L705.58,203.89 L706.99,203.42 L708.41,202.93 L709.83,202.40 L711.25,201.83 L712.66,201.23 L714.08,200.59 L715.50,199.90 L716.92,199.18 L718.34,198.40 L719.75,197.58 L721.17,196.71 L722.59,195.78 L724.01,194.80 L725.42,193.77 L726.84,192.67 L728.26,191.50 L729.68,190.28 L731.10,188.99 L732.51,187.62 L733.93,186.19 L735.35,184.68 L736.77,183.10 L738.18,181.44 L739.60,179.70 L741.02,177.88 L742.44,175.98 L743.86,173.99 L745.27,171.92 L746.69,169.76 L748.11,167.51 L749.53,165.17 L750.95,162.74 L752.36,160.22 L753.78,157.61 L755.20,154.91 L756.62,152.12 L758.03,149.23 L759.45,146.25 L760.87,143.18 L762.29,140.02 L763.71,136.77 L765.12,133.43 L766.54,130.02 L767.96,126.53 L769.38,122.97 L770.79,119.34 L772.21,115.67 L773.63,111.96 L775.05,108.23 L776.47,104.50 L777.88,100.79 L779.30,97.13 L780.72,93.56 L782.14,90.11 L783.55,86.82 L784.97,83.73 L786.39,80.90 L787.81,78.37 L789.23,76.18 L790.64,74.38 L792.06,73.00 L793.48,72.08 L794.90,71.64 L796.32,71.68 L797.73,72.19 L799.15,73.15 L800.57,74.55 L801.99,76.37 L803.40,78.59 L804.82,81.16 L806.24,84.05 L807.66,87.23 L809.08,90.65 L810.49,94.29 L811.91,98.10 L813.33,102.05 L814.75,106.11 L816.16,110.23 L817.58,114.41 L819.00,118.60 L820.42,122.79 L821.84,126.96 L823.25,131.08 L824.67,135.14 L826.09,139.13 L827.51,143.03 L828.92,146.82 L830.34,150.51 L831.76,154.08 L833.18,157.52 L834.60,160.84 L836.01,164.02 L837.43,167.06 L838.85,169.96 L840.27,172.72 L841.68,175.35 L843.10,177.83 L844.52,180.18 L845.94,182.39 L847.36,184.47 L848.77,186.43 L850.19,188.26 L851.61,189.97 L853.03,191.56 L854.45,193.05 L855.86,194.43 L857.28,195.72 L858.70,196.91 L860.12,198.01 L861.53,199.02 L862.95,199.97 L864.37,200.83 L865.79,201.64 L867.21,202.37 L868.62,203.06 L870.04,203.68 L871.46,204.26 L872.88,204.80 L874.29,205.29 L875.71,205.74 L877.13,206.16 L878.55,206.55 L879.97,206.91 L881.38,207.24 L882.80,207.55 L884.22,207.84 L885.64,208.11 L887.05,208.36 L888.47,208.60 L889.89,208.82 L891.31,209.03 L892.73,209.22 L894.14,209.41 L895.56,209.58 L896.98,209.75 L898.40,209.91 L899.82,210.06 L901.23,210.20 L902.65,210.34 L904.07,210.47 L905.49,210.59 L906.90,210.71 L908.32,210.83 L909.74,210.94 L911.16,211.05 L912.58,211.15 L913.99,211.26 L915.41,211.35 L916.83,211.45 L918.25,211.54 L919.66,211.63 L921.08,211.71 L922.50,211.79" fill="none" stroke="#a83a42" stroke-width="1.4" stroke-linejoin="round" stroke-linecap="round" stroke-dasharray="1.0 2.4" stroke-linecap="butt"/>
<path d="M612.00,233.21 L613.42,233.19 L614.84,233.17 L616.25,233.15 L617.67,233.13 L619.09,233.11 L620.51,233.08 L621.92,233.06 L623.34,233.04 L624.76,233.01 L626.18,232.99 L627.60,232.96 L629.01,232.94 L630.43,232.91 L631.85,232.88 L633.27,232.85 L634.68,232.82 L636.10,232.79 L637.52,232.75 L638.94,232.72 L640.36,232.69 L641.77,232.65 L643.19,232.61 L644.61,232.57 L646.03,232.53 L647.45,232.49 L648.86,232.44 L650.28,232.40 L651.70,232.35 L653.12,232.30 L654.53,232.25 L655.95,232.19 L657.37,232.14 L658.79,232.08 L660.21,232.01 L661.62,231.95 L663.04,231.88 L664.46,231.81 L665.88,231.73 L667.29,231.65 L668.71,231.56 L670.13,231.47 L671.55,231.38 L672.97,231.28 L674.38,231.17 L675.80,231.05 L677.22,230.93 L678.64,230.80 L680.05,230.66 L681.47,230.51 L682.89,230.35 L684.31,230.17 L685.73,229.99 L687.14,229.79 L688.56,229.58 L689.98,229.35 L691.40,229.10 L692.82,228.83 L694.23,228.54 L695.65,228.23 L697.07,227.90 L698.49,227.54 L699.90,227.15 L701.32,226.74 L702.74,226.29 L704.16,225.80 L705.58,225.28 L706.99,224.72 L708.41,224.12 L709.83,223.47 L711.25,222.78 L712.66,222.04 L714.08,221.24 L715.50,220.39 L716.92,219.48 L718.34,218.51 L719.75,217.47 L721.17,216.37 L722.59,215.20 L724.01,213.96 L725.42,212.64 L726.84,211.24 L728.26,209.76 L729.68,208.20 L731.10,206.55 L732.51,204.82 L733.93,202.99 L735.35,201.08 L736.77,199.07 L738.18,196.97 L739.60,194.78 L741.02,192.49 L742.44,190.11 L743.86,187.63 L745.27,185.06 L746.69,182.39 L748.11,179.63 L749.53,176.78 L750.95,173.84 L752.36,170.81 L753.78,167.70 L755.20,164.51 L756.62,161.23 L758.03,157.88 L759.45,154.47 L760.87,150.99 L762.29,147.45 L763.71,143.86 L765.12,140.24 L766.54,136.59 L767.96,132.92 L769.38,129.24 L770.79,125.59 L772.21,121.97 L773.63,118.40 L775.05,114.93 L776.47,111.56 L777.88,108.35 L779.30,105.31 L780.72,102.50 L782.14,99.94 L783.55,97.68 L784.97,95.76 L786.39,94.22 L787.81,93.08 L789.23,92.37 L790.64,92.10 L792.06,92.28 L793.48,92.91 L794.90,93.98 L796.32,95.46 L797.73,97.35 L799.15,99.61 L800.57,102.21 L801.99,105.13 L803.40,108.33 L804.82,111.77 L806.24,115.42 L807.66,119.25 L809.08,123.22 L810.49,127.30 L811.91,131.46 L813.33,135.67 L814.75,139.91 L816.16,144.16 L817.58,148.38 L819.00,152.57 L820.42,156.69 L821.84,160.75 L823.25,164.71 L824.67,168.58 L826.09,172.33 L827.51,175.96 L828.92,179.46 L830.34,182.82 L831.76,186.05 L833.18,189.13 L834.60,192.06 L836.01,194.85 L837.43,197.49 L838.85,199.98 L840.27,202.34 L841.68,204.55 L843.10,206.62 L844.52,208.56 L845.94,210.37 L847.36,212.05 L848.77,213.62 L850.19,215.07 L851.61,216.42 L853.03,217.67 L854.45,218.82 L855.86,219.88 L857.28,220.86 L858.70,221.76 L860.12,222.59 L861.53,223.35 L862.95,224.05 L864.37,224.70 L865.79,225.29 L867.21,225.83 L868.62,226.34 L870.04,226.80 L871.46,227.22 L872.88,227.61 L874.29,227.98 L875.71,228.31 L877.13,228.62 L878.55,228.91 L879.97,229.18 L881.38,229.43 L882.80,229.67 L884.22,229.89 L885.64,230.10 L887.05,230.29 L888.47,230.48 L889.89,230.65 L891.31,230.82 L892.73,230.97 L894.14,231.12 L895.56,231.27 L896.98,231.40 L898.40,231.54 L899.82,231.66 L901.23,231.78 L902.65,231.90 L904.07,232.01 L905.49,232.12 L906.90,232.23 L908.32,232.33 L909.74,232.43 L911.16,232.52 L912.58,232.62 L913.99,232.71 L915.41,232.79 L916.83,232.88 L918.25,232.96 L919.66,233.04 L921.08,233.12 L922.50,233.19" fill="none" stroke="#f7c070" stroke-width="4.4" stroke-linejoin="round" stroke-linecap="round"/>
<path d="M629.01,232.94 L630.43,232.91 L631.85,232.88 L633.27,232.85 L634.68,232.82 L636.10,232.79 L637.52,232.75 L638.94,232.72 L640.36,232.69 L641.77,232.65 L643.19,232.61 L644.61,232.57 L646.03,232.53 L647.45,232.49 L648.86,232.44 L650.28,232.40 L651.70,232.35 L653.12,232.30 L654.53,232.25 L655.95,232.19 L657.37,232.14 L658.79,232.08 L660.21,232.01 L661.62,231.95 L663.04,231.88 L664.46,231.81 L665.88,231.73 L667.29,231.65 L668.71,231.56 L670.13,231.47 L671.55,231.38 L672.97,231.28 L674.38,231.17 L675.80,231.05 L677.22,230.93 L678.64,230.80 L680.05,230.66 L681.47,230.51 L682.89,230.35 L684.31,230.17 L685.73,229.99 L687.14,229.79 L688.56,229.58 L689.98,229.35 L691.40,229.10 L692.82,228.83 L694.23,228.54 L695.65,228.23 L697.07,227.90 L698.49,227.54 L699.90,227.15 L701.32,226.74 L702.74,226.29 L704.16,225.80 L705.58,225.28 L706.99,224.72 L708.41,224.12 L709.83,223.47 L711.25,222.78 L712.66,222.04 L714.08,221.24 L715.50,220.39 L716.92,219.48 L718.34,218.51 L719.75,217.47 L721.17,216.37 L722.59,215.20 L724.01,213.96 L725.42,212.64 L726.84,211.24 L728.26,209.76 L729.68,208.20 L731.10,206.55 L732.51,204.82 L733.93,202.99 L735.35,201.08 L736.77,199.07 L738.18,196.97 L739.60,194.78 L741.02,192.49 L742.44,190.11 L743.86,187.63 L745.27,185.06 L746.69,182.39 L748.11,179.63 L749.53,176.78 L750.95,173.84 L752.36,170.81 L753.78,167.70 L755.20,164.51 L756.62,161.23 L758.03,157.88 L759.45,154.47 L760.87,150.99 L762.29,147.45 L763.71,143.86 L765.12,140.24 L766.54,136.59 L767.96,132.92 L769.38,129.24 L770.79,125.59 L772.21,121.97 L773.63,118.40 L775.05,114.93 L776.47,111.56 L777.88,108.35 L779.30,105.31 L780.72,102.50 L782.14,99.94 L783.55,97.68 L784.97,95.76 L786.39,94.22 L787.81,93.08 L789.23,92.37 L790.64,92.10 L792.06,92.28 L793.48,92.91 L794.90,93.98 L796.32,95.46 L797.73,97.35 L799.15,99.61 L800.57,102.21 L801.99,105.13 L803.40,108.33 L804.82,111.77 L806.24,115.42 L807.66,119.25 L809.08,123.22 L810.49,127.30 L811.91,131.46 L813.33,135.67 L814.75,139.91 L816.16,144.16 L817.58,148.38 L819.00,152.57 L820.42,156.69 L821.84,160.75 L823.25,164.71 L824.67,168.58 L826.09,172.33 L827.51,175.96 L828.92,179.46 L830.34,182.82 L831.76,186.05 L833.18,189.13 L834.60,192.06 L836.01,194.85 L837.43,197.49 L838.85,199.98 L840.27,202.34 L841.68,204.55 L843.10,206.62 L844.52,208.56 L845.94,210.37 L847.36,212.05 L848.77,213.62 L850.19,215.07 L851.61,216.42 L853.03,217.67 L854.45,218.82 L855.86,219.88 L857.28,220.86 L858.70,221.76 L860.12,222.59 L861.53,223.35 L862.95,224.05 L864.37,224.70 L865.79,225.29 L867.21,225.83 L868.62,226.34 L870.04,226.80 L871.46,227.22 L872.88,227.61 L874.29,227.98 L875.71,228.31 L877.13,228.62 L878.55,228.91 L879.97,229.18 L881.38,229.43 L882.80,229.67 L884.22,229.89 L885.64,230.10 L887.05,230.29 L888.47,230.48 L889.89,230.65 L891.31,230.82 L892.73,230.97 L894.14,231.12 L895.56,231.27 L896.98,231.40 L898.40,231.54 L899.82,231.66 L901.23,231.78 L902.65,231.90 L904.07,232.01 L905.49,232.12 L906.90,232.23 L908.32,232.33 L909.74,232.43 L911.16,232.52 L912.58,232.62 L913.99,232.71 L915.41,232.79 L916.83,232.88 L918.25,232.96 L919.66,233.04 L921.08,233.12 L922.50,233.19" fill="none" stroke="#f0960a" stroke-width="1.4" stroke-linejoin="round" stroke-linecap="round" stroke-dasharray="1.0 2.4" stroke-linecap="butt"/>
<path d="M612.00,253.91 L613.42,253.90 L614.84,253.89 L616.25,253.88 L617.67,253.86 L619.09,253.85 L620.51,253.84 L621.92,253.83 L623.34,253.81 L624.76,253.80 L626.18,253.79 L627.60,253.77 L629.01,253.75 L630.43,253.74 L631.85,253.72 L633.27,253.70 L634.68,253.68 L636.10,253.66 L637.52,253.64 L638.94,253.62 L640.36,253.60 L641.77,253.57 L643.19,253.55 L644.61,253.52 L646.03,253.49 L647.45,253.47 L648.86,253.44 L650.28,253.40 L651.70,253.37 L653.12,253.33 L654.53,253.30 L655.95,253.25 L657.37,253.21 L658.79,253.17 L660.21,253.12 L661.62,253.07 L663.04,253.01 L664.46,252.95 L665.88,252.89 L667.29,252.82 L668.71,252.75 L670.13,252.67 L671.55,252.58 L672.97,252.49 L674.38,252.39 L675.80,252.28 L677.22,252.16 L678.64,252.03 L680.05,251.89 L681.47,251.74 L682.89,251.58 L684.31,251.40 L685.73,251.20 L687.14,250.99 L688.56,250.75 L689.98,250.50 L691.40,250.22 L692.82,249.91 L694.23,249.58 L695.65,249.22 L697.07,248.83 L698.49,248.40 L699.90,247.94 L701.32,247.44 L702.74,246.89 L704.16,246.30 L705.58,245.66 L706.99,244.96 L708.41,244.22 L709.83,243.41 L711.25,242.54 L712.66,241.60 L714.08,240.60 L715.50,239.53 L716.92,238.37 L718.34,237.14 L719.75,235.83 L721.17,234.43 L722.59,232.95 L724.01,231.37 L725.42,229.70 L726.84,227.94 L728.26,226.07 L729.68,224.11 L731.10,222.05 L732.51,219.88 L733.93,217.62 L735.35,215.25 L736.77,212.78 L738.18,210.20 L739.60,207.53 L741.02,204.76 L742.44,201.89 L743.86,198.93 L745.27,195.89 L746.69,192.75 L748.11,189.54 L749.53,186.25 L750.95,182.89 L752.36,179.47 L753.78,175.99 L755.20,172.46 L756.62,168.90 L758.03,165.30 L759.45,161.69 L760.87,158.06 L762.29,154.44 L763.71,150.84 L765.12,147.27 L766.54,143.75 L767.96,140.30 L769.38,136.94 L770.79,133.69 L772.21,130.58 L773.63,127.63 L775.05,124.88 L776.47,122.35 L777.88,120.08 L779.30,118.10 L780.72,116.44 L782.14,115.13 L783.55,114.19 L784.97,113.64 L786.39,113.51 L787.81,113.78 L789.23,114.49 L790.64,115.60 L792.06,117.11 L793.48,119.01 L794.90,121.26 L796.32,123.84 L797.73,126.73 L799.15,129.89 L800.57,133.29 L801.99,136.90 L803.40,140.69 L804.82,144.63 L806.24,148.69 L807.66,152.84 L809.08,157.04 L810.49,161.29 L811.91,165.54 L813.33,169.78 L814.75,173.99 L816.16,178.14 L817.58,182.22 L819.00,186.21 L820.42,190.11 L821.84,193.89 L823.25,197.54 L824.67,201.07 L826.09,204.45 L827.51,207.69 L828.92,210.78 L830.34,213.72 L831.76,216.51 L833.18,219.14 L834.60,221.62 L836.01,223.96 L837.43,226.14 L838.85,228.19 L840.27,230.10 L841.68,231.87 L843.10,233.52 L844.52,235.05 L845.94,236.46 L847.36,237.77 L848.77,238.97 L850.19,240.07 L851.61,241.09 L853.03,242.03 L854.45,242.88 L855.86,243.67 L857.28,244.39 L858.70,245.05 L860.12,245.65 L861.53,246.21 L862.95,246.72 L864.37,247.18 L865.79,247.61 L867.21,248.01 L868.62,248.37 L870.04,248.71 L871.46,249.02 L872.88,249.31 L874.29,249.58 L875.71,249.83 L877.13,250.06 L878.55,250.28 L879.97,250.48 L881.38,250.68 L882.80,250.86 L884.22,251.04 L885.64,251.20 L887.05,251.36 L888.47,251.51 L889.89,251.65 L891.31,251.79 L892.73,251.92 L894.14,252.05 L895.56,252.17 L896.98,252.28 L898.40,252.40 L899.82,252.51 L901.23,252.61 L902.65,252.72 L904.07,252.82 L905.49,252.91 L906.90,253.01 L908.32,253.10 L909.74,253.19 L911.16,253.27 L912.58,253.36 L913.99,253.44 L915.41,253.52 L916.83,253.60 L918.25,253.68 L919.66,253.75 L921.08,253.82 L922.50,253.89" fill="none" stroke="#7ee0a0" stroke-width="4.4" stroke-linejoin="round" stroke-linecap="round"/>
<path d="M629.01,253.75 L630.43,253.74 L631.85,253.72 L633.27,253.70 L634.68,253.68 L636.10,253.66 L637.52,253.64 L638.94,253.62 L640.36,253.60 L641.77,253.57 L643.19,253.55 L644.61,253.52 L646.03,253.49 L647.45,253.47 L648.86,253.44 L650.28,253.40 L651.70,253.37 L653.12,253.33 L654.53,253.30 L655.95,253.25 L657.37,253.21 L658.79,253.17 L660.21,253.12 L661.62,253.07 L663.04,253.01 L664.46,252.95 L665.88,252.89 L667.29,252.82 L668.71,252.75 L670.13,252.67 L671.55,252.58 L672.97,252.49 L674.38,252.39 L675.80,252.28 L677.22,252.16 L678.64,252.03 L680.05,251.89 L681.47,251.74 L682.89,251.58 L684.31,251.40 L685.73,251.20 L687.14,250.99 L688.56,250.75 L689.98,250.50 L691.40,250.22 L692.82,249.91 L694.23,249.58 L695.65,249.22 L697.07,248.83 L698.49,248.40 L699.90,247.94 L701.32,247.44 L702.74,246.89 L704.16,246.30 L705.58,245.66 L706.99,244.96 L708.41,244.22 L709.83,243.41 L711.25,242.54 L712.66,241.60 L714.08,240.60 L715.50,239.53 L716.92,238.37 L718.34,237.14 L719.75,235.83 L721.17,234.43 L722.59,232.95 L724.01,231.37 L725.42,229.70 L726.84,227.94 L728.26,226.07 L729.68,224.11 L731.10,222.05 L732.51,219.88 L733.93,217.62 L735.35,215.25 L736.77,212.78 L738.18,210.20 L739.60,207.53 L741.02,204.76 L742.44,201.89 L743.86,198.93 L745.27,195.89 L746.69,192.75 L748.11,189.54 L749.53,186.25 L750.95,182.89 L752.36,179.47 L753.78,175.99 L755.20,172.46 L756.62,168.90 L758.03,165.30 L759.45,161.69 L760.87,158.06 L762.29,154.44 L763.71,150.84 L765.12,147.27 L766.54,143.75 L767.96,140.30 L769.38,136.94 L770.79,133.69 L772.21,130.58 L773.63,127.63 L775.05,124.88 L776.47,122.35 L777.88,120.08 L779.30,118.10 L780.72,116.44 L782.14,115.13 L783.55,114.19 L784.97,113.64 L786.39,113.51 L787.81,113.78 L789.23,114.49 L790.64,115.60 L792.06,117.11 L793.48,119.01 L794.90,121.26 L796.32,123.84 L797.73,126.73 L799.15,129.89 L800.57,133.29 L801.99,136.90 L803.40,140.69 L804.82,144.63 L806.24,148.69 L807.66,152.84 L809.08,157.04 L810.49,161.29 L811.91,165.54 L813.33,169.78 L814.75,173.99 L816.16,178.14 L817.58,182.22 L819.00,186.21 L820.42,190.11 L821.84,193.89 L823.25,197.54 L824.67,201.07 L826.09,204.45 L827.51,207.69 L828.92,210.78 L830.34,213.72 L831.76,216.51 L833.18,219.14 L834.60,221.62 L836.01,223.96 L837.43,226.14 L838.85,228.19 L840.27,230.10 L841.68,231.87 L843.10,233.52 L844.52,235.05 L845.94,236.46 L847.36,237.77 L848.77,238.97 L850.19,240.07 L851.61,241.09 L853.03,242.03 L854.45,242.88 L855.86,243.67 L857.28,244.39 L858.70,245.05 L860.12,245.65 L861.53,246.21 L862.95,246.72 L864.37,247.18 L865.79,247.61 L867.21,248.01 L868.62,248.37 L870.04,248.71 L871.46,249.02 L872.88,249.31 L874.29,249.58 L875.71,249.83 L877.13,250.06 L878.55,250.28 L879.97,250.48 L881.38,250.68 L882.80,250.86 L884.22,251.04 L885.64,251.20 L887.05,251.36 L888.47,251.51 L889.89,251.65 L891.31,251.79 L892.73,251.92 L894.14,252.05 L895.56,252.17 L896.98,252.28 L898.40,252.40 L899.82,252.51 L901.23,252.61 L902.65,252.72 L904.07,252.82 L905.49,252.91 L906.90,253.01 L908.32,253.10 L909.74,253.19 L911.16,253.27 L912.58,253.36 L913.99,253.44 L915.41,253.52 L916.83,253.60 L918.25,253.68 L919.66,253.75 L921.08,253.82 L922.50,253.89" fill="none" stroke="#22cc66" stroke-width="1.4" stroke-linejoin="round" stroke-linecap="round" stroke-dasharray="1.0 2.4" stroke-linecap="butt"/>
<path d="M612.00,275.01 L613.42,275.01 L614.84,275.01 L616.25,275.00 L617.67,275.00 L619.09,275.00 L620.51,275.00 L621.92,275.00 L623.34,274.99 L624.76,274.99 L626.18,274.99 L627.60,274.98 L629.01,274.98 L630.43,274.97 L631.85,274.97 L633.27,274.96 L634.68,274.95 L636.10,274.94 L637.52,274.93 L638.94,274.93 L640.36,274.91 L641.77,274.90 L643.19,274.89 L644.61,274.88 L646.03,274.86 L647.45,274.84 L648.86,274.83 L650.28,274.81 L651.70,274.78 L653.12,274.76 L654.53,274.73 L655.95,274.70 L657.37,274.67 L658.79,274.63 L660.21,274.59 L661.62,274.54 L663.04,274.49 L664.46,274.43 L665.88,274.37 L667.29,274.30 L668.71,274.22 L670.13,274.13 L671.55,274.03 L672.97,273.93 L674.38,273.80 L675.80,273.67 L677.22,273.52 L678.64,273.35 L680.05,273.17 L681.47,272.96 L682.89,272.74 L684.31,272.49 L685.73,272.21 L687.14,271.90 L688.56,271.56 L689.98,271.19 L691.40,270.78 L692.82,270.33 L694.23,269.83 L695.65,269.29 L697.07,268.70 L698.49,268.05 L699.90,267.35 L701.32,266.58 L702.74,265.75 L704.16,264.85 L705.58,263.87 L706.99,262.82 L708.41,261.69 L709.83,260.48 L711.25,259.17 L712.66,257.77 L714.08,256.28 L715.50,254.69 L716.92,252.99 L718.34,251.19 L719.75,249.29 L721.17,247.28 L722.59,245.15 L724.01,242.92 L725.42,240.57 L726.84,238.12 L728.26,235.55 L729.68,232.88 L731.10,230.10 L732.51,227.21 L733.93,224.23 L735.35,221.14 L736.77,217.97 L738.18,214.71 L739.60,211.38 L741.02,207.97 L742.44,204.49 L743.86,200.97 L745.27,197.39 L746.69,193.78 L748.11,190.15 L749.53,186.50 L750.95,182.85 L752.36,179.21 L753.78,175.60 L755.20,172.03 L756.62,168.51 L758.03,165.06 L759.45,161.69 L760.87,158.43 L762.29,155.29 L763.71,152.28 L765.12,149.44 L766.54,146.79 L767.96,144.33 L769.38,142.11 L770.79,140.14 L772.21,138.46 L773.63,137.07 L775.05,136.01 L776.47,135.30 L777.88,134.94 L779.30,134.95 L780.72,135.37 L782.14,136.18 L783.55,137.38 L784.97,138.96 L786.39,140.90 L787.81,143.18 L789.23,145.78 L790.64,148.67 L792.06,151.83 L793.48,155.23 L794.90,158.84 L796.32,162.63 L797.73,166.57 L799.15,170.63 L800.57,174.78 L801.99,179.01 L803.40,183.27 L804.82,187.54 L806.24,191.81 L807.66,196.04 L809.08,200.22 L810.49,204.33 L811.91,208.35 L813.33,212.27 L814.75,216.07 L816.16,219.74 L817.58,223.28 L819.00,226.67 L820.42,229.91 L821.84,233.00 L823.25,235.92 L824.67,238.69 L826.09,241.30 L827.51,243.76 L828.92,246.06 L830.34,248.21 L831.76,250.21 L833.18,252.07 L834.60,253.80 L836.01,255.40 L837.43,256.88 L838.85,258.23 L840.27,259.49 L841.68,260.63 L843.10,261.69 L844.52,262.65 L845.94,263.53 L847.36,264.34 L848.77,265.07 L850.19,265.75 L851.61,266.36 L853.03,266.92 L854.45,267.43 L855.86,267.90 L857.28,268.33 L858.70,268.73 L860.12,269.09 L861.53,269.43 L862.95,269.74 L864.37,270.02 L865.79,270.29 L867.21,270.53 L868.62,270.76 L870.04,270.98 L871.46,271.18 L872.88,271.37 L874.29,271.55 L875.71,271.72 L877.13,271.89 L878.55,272.04 L879.97,272.19 L881.38,272.33 L882.80,272.47 L884.22,272.60 L885.64,272.72 L887.05,272.84 L888.47,272.96 L889.89,273.07 L891.31,273.18 L892.73,273.29 L894.14,273.39 L895.56,273.49 L896.98,273.59 L898.40,273.69 L899.82,273.78 L901.23,273.87 L902.65,273.96 L904.07,274.04 L905.49,274.13 L906.90,274.21 L908.32,274.29 L909.74,274.36 L911.16,274.44 L912.58,274.52 L913.99,274.59 L915.41,274.66 L916.83,274.73 L918.25,274.80 L919.66,274.86 L921.08,274.93 L922.50,274.99" fill="none" stroke="#98cfa5" stroke-width="4.4" stroke-linejoin="round" stroke-linecap="round"/>
<path d="M629.01,274.98 L630.43,274.97 L631.85,274.97 L633.27,274.96 L634.68,274.95 L636.10,274.94 L637.52,274.93 L638.94,274.93 L640.36,274.91 L641.77,274.90 L643.19,274.89 L644.61,274.88 L646.03,274.86 L647.45,274.84 L648.86,274.83 L650.28,274.81 L651.70,274.78 L653.12,274.76 L654.53,274.73 L655.95,274.70 L657.37,274.67 L658.79,274.63 L660.21,274.59 L661.62,274.54 L663.04,274.49 L664.46,274.43 L665.88,274.37 L667.29,274.30 L668.71,274.22 L670.13,274.13 L671.55,274.03 L672.97,273.93 L674.38,273.80 L675.80,273.67 L677.22,273.52 L678.64,273.35 L680.05,273.17 L681.47,272.96 L682.89,272.74 L684.31,272.49 L685.73,272.21 L687.14,271.90 L688.56,271.56 L689.98,271.19 L691.40,270.78 L692.82,270.33 L694.23,269.83 L695.65,269.29 L697.07,268.70 L698.49,268.05 L699.90,267.35 L701.32,266.58 L702.74,265.75 L704.16,264.85 L705.58,263.87 L706.99,262.82 L708.41,261.69 L709.83,260.48 L711.25,259.17 L712.66,257.77 L714.08,256.28 L715.50,254.69 L716.92,252.99 L718.34,251.19 L719.75,249.29 L721.17,247.28 L722.59,245.15 L724.01,242.92 L725.42,240.57 L726.84,238.12 L728.26,235.55 L729.68,232.88 L731.10,230.10 L732.51,227.21 L733.93,224.23 L735.35,221.14 L736.77,217.97 L738.18,214.71 L739.60,211.38 L741.02,207.97 L742.44,204.49 L743.86,200.97 L745.27,197.39 L746.69,193.78 L748.11,190.15 L749.53,186.50 L750.95,182.85 L752.36,179.21 L753.78,175.60 L755.20,172.03 L756.62,168.51 L758.03,165.06 L759.45,161.69 L760.87,158.43 L762.29,155.29 L763.71,152.28 L765.12,149.44 L766.54,146.79 L767.96,144.33 L769.38,142.11 L770.79,140.14 L772.21,138.46 L773.63,137.07 L775.05,136.01 L776.47,135.30 L777.88,134.94 L779.30,134.95 L780.72,135.37 L782.14,136.18 L783.55,137.38 L784.97,138.96 L786.39,140.90 L787.81,143.18 L789.23,145.78 L790.64,148.67 L792.06,151.83 L793.48,155.23 L794.90,158.84 L796.32,162.63 L797.73,166.57 L799.15,170.63 L800.57,174.78 L801.99,179.01 L803.40,183.27 L804.82,187.54 L806.24,191.81 L807.66,196.04 L809.08,200.22 L810.49,204.33 L811.91,208.35 L813.33,212.27 L814.75,216.07 L816.16,219.74 L817.58,223.28 L819.00,226.67 L820.42,229.91 L821.84,233.00 L823.25,235.92 L824.67,238.69 L826.09,241.30 L827.51,243.76 L828.92,246.06 L830.34,248.21 L831.76,250.21 L833.18,252.07 L834.60,253.80 L836.01,255.40 L837.43,256.88 L838.85,258.23 L840.27,259.49 L841.68,260.63 L843.10,261.69 L844.52,262.65 L845.94,263.53 L847.36,264.34 L848.77,265.07 L850.19,265.75 L851.61,266.36 L853.03,266.92 L854.45,267.43 L855.86,267.90 L857.28,268.33 L858.70,268.73 L860.12,269.09 L861.53,269.43 L862.95,269.74 L864.37,270.02 L865.79,270.29 L867.21,270.53 L868.62,270.76 L870.04,270.98 L871.46,271.18 L872.88,271.37 L874.29,271.55 L875.71,271.72 L877.13,271.89 L878.55,272.04 L879.97,272.19 L881.38,272.33 L882.80,272.47 L884.22,272.60 L885.64,272.72 L887.05,272.84 L888.47,272.96 L889.89,273.07 L891.31,273.18 L892.73,273.29 L894.14,273.39 L895.56,273.49 L896.98,273.59 L898.40,273.69 L899.82,273.78 L901.23,273.87 L902.65,273.96 L904.07,274.04 L905.49,274.13 L906.90,274.21 L908.32,274.29 L909.74,274.36 L911.16,274.44 L912.58,274.52 L913.99,274.59 L915.41,274.66 L916.83,274.73 L918.25,274.80 L919.66,274.86 L921.08,274.93 L922.50,274.99" fill="none" stroke="#4fa068" stroke-width="1.4" stroke-linejoin="round" stroke-linecap="round" stroke-dasharray="1.0 2.4" stroke-linecap="butt"/>
<path d="M612.00,295.71 L613.42,295.72 L614.84,295.73 L616.25,295.74 L617.67,295.75 L619.09,295.77 L620.51,295.78 L621.92,295.79 L623.34,295.80 L624.76,295.81 L626.18,295.82 L627.60,295.83 L629.01,295.84 L630.43,295.85 L631.85,295.86 L633.27,295.87 L634.68,295.87 L636.10,295.88 L637.52,295.89 L638.94,295.90 L640.36,295.90 L641.77,295.90 L643.19,295.91 L644.61,295.91 L646.03,295.91 L647.45,295.90 L648.86,295.90 L650.28,295.89 L651.70,295.88 L653.12,295.87 L654.53,295.85 L655.95,295.82 L657.37,295.79 L658.79,295.76 L660.21,295.72 L661.62,295.67 L663.04,295.61 L664.46,295.54 L665.88,295.46 L667.29,295.37 L668.71,295.26 L670.13,295.14 L671.55,295.00 L672.97,294.84 L674.38,294.66 L675.80,294.46 L677.22,294.22 L678.64,293.96 L680.05,293.67 L681.47,293.35 L682.89,292.98 L684.31,292.58 L685.73,292.13 L687.14,291.63 L688.56,291.08 L689.98,290.47 L691.40,289.80 L692.82,289.07 L694.23,288.27 L695.65,287.39 L697.07,286.44 L698.49,285.40 L699.90,284.28 L701.32,283.06 L702.74,281.76 L704.16,280.35 L705.58,278.83 L706.99,277.22 L708.41,275.49 L709.83,273.64 L711.25,271.69 L712.66,269.61 L714.08,267.41 L715.50,265.10 L716.92,262.66 L718.34,260.11 L719.75,257.43 L721.17,254.64 L722.59,251.73 L724.01,248.72 L725.42,245.60 L726.84,242.37 L728.26,239.06 L729.68,235.66 L731.10,232.18 L732.51,228.63 L733.93,225.02 L735.35,221.36 L736.77,217.67 L738.18,213.95 L739.60,210.23 L741.02,206.50 L742.44,202.80 L743.86,199.12 L745.27,195.50 L746.69,191.93 L748.11,188.45 L749.53,185.05 L750.95,181.76 L752.36,178.60 L753.78,175.58 L755.20,172.70 L756.62,170.00 L758.03,167.48 L759.45,165.16 L760.87,163.06 L762.29,161.19 L763.71,159.56 L765.12,158.21 L766.54,157.15 L767.96,156.38 L769.38,155.93 L770.79,155.80 L772.21,156.03 L773.63,156.64 L775.05,157.63 L776.47,158.98 L777.88,160.69 L779.30,162.74 L780.72,165.11 L782.14,167.79 L783.55,170.74 L784.97,173.96 L786.39,177.41 L787.81,181.06 L789.23,184.89 L790.64,188.86 L792.06,192.96 L793.48,197.15 L794.90,201.41 L796.32,205.70 L797.73,210.01 L799.15,214.30 L800.57,218.56 L801.99,222.76 L803.40,226.88 L804.82,230.91 L806.24,234.83 L807.66,238.62 L809.08,242.28 L810.49,245.80 L811.91,249.16 L813.33,252.36 L814.75,255.41 L816.16,258.29 L817.58,261.00 L819.00,263.55 L820.42,265.94 L821.84,268.17 L823.25,270.25 L824.67,272.18 L826.09,273.96 L827.51,275.61 L828.92,277.13 L830.34,278.53 L831.76,279.81 L833.18,280.99 L834.60,282.06 L836.01,283.04 L837.43,283.93 L838.85,284.75 L840.27,285.49 L841.68,286.16 L843.10,286.78 L844.52,287.34 L845.94,287.85 L847.36,288.31 L848.77,288.74 L850.19,289.12 L851.61,289.48 L853.03,289.81 L854.45,290.11 L855.86,290.39 L857.28,290.64 L858.70,290.88 L860.12,291.11 L861.53,291.32 L862.95,291.51 L864.37,291.70 L865.79,291.87 L867.21,292.04 L868.62,292.20 L870.04,292.35 L871.46,292.49 L872.88,292.63 L874.29,292.77 L875.71,292.89 L877.13,293.02 L878.55,293.14 L879.97,293.25 L881.38,293.37 L882.80,293.48 L884.22,293.58 L885.64,293.69 L887.05,293.79 L888.47,293.89 L889.89,293.98 L891.31,294.07 L892.73,294.17 L894.14,294.25 L895.56,294.34 L896.98,294.43 L898.40,294.51 L899.82,294.59 L901.23,294.67 L902.65,294.75 L904.07,294.83 L905.49,294.90 L906.90,294.97 L908.32,295.05 L909.74,295.12 L911.16,295.18 L912.58,295.25 L913.99,295.32 L915.41,295.38 L916.83,295.45 L918.25,295.51 L919.66,295.57 L921.08,295.63 L922.50,295.69" fill="none" stroke="#5cbaba" stroke-width="4.4" stroke-linejoin="round" stroke-linecap="round"/>
<path d="M629.01,295.84 L630.43,295.85 L631.85,295.86 L633.27,295.87 L634.68,295.87 L636.10,295.88 L637.52,295.89 L638.94,295.90 L640.36,295.90 L641.77,295.90 L643.19,295.91 L644.61,295.91 L646.03,295.91 L647.45,295.90 L648.86,295.90 L650.28,295.89 L651.70,295.88 L653.12,295.87 L654.53,295.85 L655.95,295.82 L657.37,295.79 L658.79,295.76 L660.21,295.72 L661.62,295.67 L663.04,295.61 L664.46,295.54 L665.88,295.46 L667.29,295.37 L668.71,295.26 L670.13,295.14 L671.55,295.00 L672.97,294.84 L674.38,294.66 L675.80,294.46 L677.22,294.22 L678.64,293.96 L680.05,293.67 L681.47,293.35 L682.89,292.98 L684.31,292.58 L685.73,292.13 L687.14,291.63 L688.56,291.08 L689.98,290.47 L691.40,289.80 L692.82,289.07 L694.23,288.27 L695.65,287.39 L697.07,286.44 L698.49,285.40 L699.90,284.28 L701.32,283.06 L702.74,281.76 L704.16,280.35 L705.58,278.83 L706.99,277.22 L708.41,275.49 L709.83,273.64 L711.25,271.69 L712.66,269.61 L714.08,267.41 L715.50,265.10 L716.92,262.66 L718.34,260.11 L719.75,257.43 L721.17,254.64 L722.59,251.73 L724.01,248.72 L725.42,245.60 L726.84,242.37 L728.26,239.06 L729.68,235.66 L731.10,232.18 L732.51,228.63 L733.93,225.02 L735.35,221.36 L736.77,217.67 L738.18,213.95 L739.60,210.23 L741.02,206.50 L742.44,202.80 L743.86,199.12 L745.27,195.50 L746.69,191.93 L748.11,188.45 L749.53,185.05 L750.95,181.76 L752.36,178.60 L753.78,175.58 L755.20,172.70 L756.62,170.00 L758.03,167.48 L759.45,165.16 L760.87,163.06 L762.29,161.19 L763.71,159.56 L765.12,158.21 L766.54,157.15 L767.96,156.38 L769.38,155.93 L770.79,155.80 L772.21,156.03 L773.63,156.64 L775.05,157.63 L776.47,158.98 L777.88,160.69 L779.30,162.74 L780.72,165.11 L782.14,167.79 L783.55,170.74 L784.97,173.96 L786.39,177.41 L787.81,181.06 L789.23,184.89 L790.64,188.86 L792.06,192.96 L793.48,197.15 L794.90,201.41 L796.32,205.70 L797.73,210.01 L799.15,214.30 L800.57,218.56 L801.99,222.76 L803.40,226.88 L804.82,230.91 L806.24,234.83 L807.66,238.62 L809.08,242.28 L810.49,245.80 L811.91,249.16 L813.33,252.36 L814.75,255.41 L816.16,258.29 L817.58,261.00 L819.00,263.55 L820.42,265.94 L821.84,268.17 L823.25,270.25 L824.67,272.18 L826.09,273.96 L827.51,275.61 L828.92,277.13 L830.34,278.53 L831.76,279.81 L833.18,280.99 L834.60,282.06 L836.01,283.04 L837.43,283.93 L838.85,284.75 L840.27,285.49 L841.68,286.16 L843.10,286.78 L844.52,287.34 L845.94,287.85 L847.36,288.31 L848.77,288.74 L850.19,289.12 L851.61,289.48 L853.03,289.81 L854.45,290.11 L855.86,290.39 L857.28,290.64 L858.70,290.88 L860.12,291.11 L861.53,291.32 L862.95,291.51 L864.37,291.70 L865.79,291.87 L867.21,292.04 L868.62,292.20 L870.04,292.35 L871.46,292.49 L872.88,292.63 L874.29,292.77 L875.71,292.89 L877.13,293.02 L878.55,293.14 L879.97,293.25 L881.38,293.37 L882.80,293.48 L884.22,293.58 L885.64,293.69 L887.05,293.79 L888.47,293.89 L889.89,293.98 L891.31,294.07 L892.73,294.17 L894.14,294.25 L895.56,294.34 L896.98,294.43 L898.40,294.51 L899.82,294.59 L901.23,294.67 L902.65,294.75 L904.07,294.83 L905.49,294.90 L906.90,294.97 L908.32,295.05 L909.74,295.12 L911.16,295.18 L912.58,295.25 L913.99,295.32 L915.41,295.38 L916.83,295.45 L918.25,295.51 L919.66,295.57 L921.08,295.63 L922.50,295.69" fill="none" stroke="#0e8e8e" stroke-width="1.4" stroke-linejoin="round" stroke-linecap="round" stroke-dasharray="1.0 2.4" stroke-linecap="butt"/>
<path d="M612.00,316.50 L613.42,316.45 L614.84,316.40 L616.25,316.35 L617.67,316.30 L619.09,316.24 L620.51,316.19 L621.92,316.13 L623.34,316.07 L624.76,316.01 L626.18,315.94 L627.60,315.88 L629.01,315.81 L630.43,315.74 L631.85,315.66 L633.27,315.59 L634.68,315.51 L636.10,315.42 L637.52,315.34 L638.94,315.24 L640.36,315.15 L641.77,315.05 L643.19,314.95 L644.61,314.84 L646.03,314.72 L647.45,314.60 L648.86,314.47 L650.28,314.34 L651.70,314.19 L653.12,314.04 L654.53,313.88 L655.95,313.71 L657.37,313.53 L658.79,313.33 L660.21,313.12 L661.62,312.90 L663.04,312.66 L664.46,312.41 L665.88,312.13 L667.29,311.84 L668.71,311.52 L670.13,311.18 L671.55,310.82 L672.97,310.43 L674.38,310.01 L675.80,309.55 L677.22,309.06 L678.64,308.54 L680.05,307.97 L681.47,307.37 L682.89,306.72 L684.31,306.02 L685.73,305.27 L687.14,304.46 L688.56,303.60 L689.98,302.68 L691.40,301.70 L692.82,300.65 L694.23,299.53 L695.65,298.34 L697.07,297.07 L698.49,295.73 L699.90,294.30 L701.32,292.79 L702.74,291.20 L704.16,289.51 L705.58,287.74 L706.99,285.87 L708.41,283.90 L709.83,281.84 L711.25,279.68 L712.66,277.42 L714.08,275.06 L715.50,272.61 L716.92,270.05 L718.34,267.39 L719.75,264.64 L721.17,261.78 L722.59,258.84 L724.01,255.79 L725.42,252.66 L726.84,249.44 L728.26,246.13 L729.68,242.75 L731.10,239.30 L732.51,235.77 L733.93,232.20 L735.35,228.57 L736.77,224.91 L738.18,221.23 L739.60,217.54 L741.02,213.86 L742.44,210.21 L743.86,206.62 L745.27,203.10 L746.69,199.67 L748.11,196.34 L749.53,193.11 L750.95,189.99 L752.36,186.98 L753.78,184.14 L755.20,181.56 L756.62,179.37 L758.03,177.75 L759.45,176.85 L760.87,176.74 L762.29,177.20 L763.71,178.14 L765.12,179.57 L766.54,181.46 L767.96,183.78 L769.38,186.50 L770.79,189.58 L772.21,192.98 L773.63,196.66 L775.05,200.57 L776.47,204.68 L777.88,208.95 L779.30,213.32 L780.72,217.78 L782.14,222.27 L783.55,226.78 L784.97,231.26 L786.39,235.69 L787.81,240.05 L789.23,244.31 L790.64,248.46 L792.06,252.48 L793.48,256.37 L794.90,260.09 L796.32,263.66 L797.73,267.07 L799.15,270.30 L800.57,273.37 L801.99,276.26 L803.40,278.98 L804.82,281.54 L806.24,283.94 L807.66,286.17 L809.08,288.26 L810.49,290.19 L811.91,291.99 L813.33,293.66 L814.75,295.20 L816.16,296.63 L817.58,297.94 L819.00,299.15 L820.42,300.27 L821.84,301.30 L823.25,302.24 L824.67,303.11 L826.09,303.91 L827.51,304.65 L828.92,305.33 L830.34,305.96 L831.76,306.53 L833.18,307.07 L834.60,307.56 L836.01,308.02 L837.43,308.44 L838.85,308.84 L840.27,309.21 L841.68,309.55 L843.10,309.87 L844.52,310.17 L845.94,310.46 L847.36,310.72 L848.77,310.97 L850.19,311.21 L851.61,311.44 L853.03,311.65 L854.45,311.86 L855.86,312.05 L857.28,312.24 L858.70,312.42 L860.12,312.59 L861.53,312.75 L862.95,312.91 L864.37,313.06 L865.79,313.20 L867.21,313.34 L868.62,313.48 L870.04,313.61 L871.46,313.74 L872.88,313.86 L874.29,313.98 L875.71,314.09 L877.13,314.20 L878.55,314.31 L879.97,314.41 L881.38,314.51 L882.80,314.61 L884.22,314.71 L885.64,314.80 L887.05,314.89 L888.47,314.98 L889.89,315.06 L891.31,315.14 L892.73,315.22 L894.14,315.30 L895.56,315.38 L896.98,315.45 L898.40,315.52 L899.82,315.59 L901.23,315.66 L902.65,315.73 L904.07,315.79 L905.49,315.85 L906.90,315.92 L908.32,315.98 L909.74,316.03 L911.16,316.09 L912.58,316.15 L913.99,316.20 L915.41,316.25 L916.83,316.31 L918.25,316.36 L919.66,316.40 L921.08,316.45 L922.50,316.50" fill="none" stroke="#6ab0f5" stroke-width="4.4" stroke-linejoin="round" stroke-linecap="round"/>
<path d="M629.01,315.81 L630.43,315.74 L631.85,315.66 L633.27,315.59 L634.68,315.51 L636.10,315.42 L637.52,315.34 L638.94,315.24 L640.36,315.15 L641.77,315.05 L643.19,314.95 L644.61,314.84 L646.03,314.72 L647.45,314.60 L648.86,314.47 L650.28,314.34 L651.70,314.19 L653.12,314.04 L654.53,313.88 L655.95,313.71 L657.37,313.53 L658.79,313.33 L660.21,313.12 L661.62,312.90 L663.04,312.66 L664.46,312.41 L665.88,312.13 L667.29,311.84 L668.71,311.52 L670.13,311.18 L671.55,310.82 L672.97,310.43 L674.38,310.01 L675.80,309.55 L677.22,309.06 L678.64,308.54 L680.05,307.97 L681.47,307.37 L682.89,306.72 L684.31,306.02 L685.73,305.27 L687.14,304.46 L688.56,303.60 L689.98,302.68 L691.40,301.70 L692.82,300.65 L694.23,299.53 L695.65,298.34 L697.07,297.07 L698.49,295.73 L699.90,294.30 L701.32,292.79 L702.74,291.20 L704.16,289.51 L705.58,287.74 L706.99,285.87 L708.41,283.90 L709.83,281.84 L711.25,279.68 L712.66,277.42 L714.08,275.06 L715.50,272.61 L716.92,270.05 L718.34,267.39 L719.75,264.64 L721.17,261.78 L722.59,258.84 L724.01,255.79 L725.42,252.66 L726.84,249.44 L728.26,246.13 L729.68,242.75 L731.10,239.30 L732.51,235.77 L733.93,232.20 L735.35,228.57 L736.77,224.91 L738.18,221.23 L739.60,217.54 L741.02,213.86 L742.44,210.21 L743.86,206.62 L745.27,203.10 L746.69,199.67 L748.11,196.34 L749.53,193.11 L750.95,189.99 L752.36,186.98 L753.78,184.14 L755.20,181.56 L756.62,179.37 L758.03,177.75 L759.45,176.85 L760.87,176.74 L762.29,177.20 L763.71,178.14 L765.12,179.57 L766.54,181.46 L767.96,183.78 L769.38,186.50 L770.79,189.58 L772.21,192.98 L773.63,196.66 L775.05,200.57 L776.47,204.68 L777.88,208.95 L779.30,213.32 L780.72,217.78 L782.14,222.27 L783.55,226.78 L784.97,231.26 L786.39,235.69 L787.81,240.05 L789.23,244.31 L790.64,248.46 L792.06,252.48 L793.48,256.37 L794.90,260.09 L796.32,263.66 L797.73,267.07 L799.15,270.30 L800.57,273.37 L801.99,276.26 L803.40,278.98 L804.82,281.54 L806.24,283.94 L807.66,286.17 L809.08,288.26 L810.49,290.19 L811.91,291.99 L813.33,293.66 L814.75,295.20 L816.16,296.63 L817.58,297.94 L819.00,299.15 L820.42,300.27 L821.84,301.30 L823.25,302.24 L824.67,303.11 L826.09,303.91 L827.51,304.65 L828.92,305.33 L830.34,305.96 L831.76,306.53 L833.18,307.07 L834.60,307.56 L836.01,308.02 L837.43,308.44 L838.85,308.84 L840.27,309.21 L841.68,309.55 L843.10,309.87 L844.52,310.17 L845.94,310.46 L847.36,310.72 L848.77,310.97 L850.19,311.21 L851.61,311.44 L853.03,311.65 L854.45,311.86 L855.86,312.05 L857.28,312.24 L858.70,312.42 L860.12,312.59 L861.53,312.75 L862.95,312.91 L864.37,313.06 L865.79,313.20 L867.21,313.34 L868.62,313.48 L870.04,313.61 L871.46,313.74 L872.88,313.86 L874.29,313.98 L875.71,314.09 L877.13,314.20 L878.55,314.31 L879.97,314.41 L881.38,314.51 L882.80,314.61 L884.22,314.71 L885.64,314.80 L887.05,314.89 L888.47,314.98 L889.89,315.06 L891.31,315.14 L892.73,315.22 L894.14,315.30 L895.56,315.38 L896.98,315.45 L898.40,315.52 L899.82,315.59 L901.23,315.66 L902.65,315.73 L904.07,315.79 L905.49,315.85 L906.90,315.92 L908.32,315.98 L909.74,316.03 L911.16,316.09 L912.58,316.15 L913.99,316.20 L915.41,316.25 L916.83,316.31 L918.25,316.36 L919.66,316.40 L921.08,316.45 L922.50,316.50" fill="none" stroke="#0a7ee8" stroke-width="1.4" stroke-linejoin="round" stroke-linecap="round" stroke-dasharray="1.0 2.4" stroke-linecap="butt"/>
<path d="M612.00,337.29 L613.42,337.17 L614.84,337.04 L616.25,336.90 L617.67,336.76 L619.09,336.62 L620.51,336.47 L621.92,336.32 L623.34,336.17 L624.76,336.01 L626.18,335.84 L627.60,335.67 L629.01,335.49 L630.43,335.31 L631.85,335.13 L633.27,334.93 L634.68,334.73 L636.10,334.53 L637.52,334.32 L638.94,334.10 L640.36,333.87 L641.77,333.63 L643.19,333.39 L644.61,333.14 L646.03,332.88 L647.45,332.60 L648.86,332.32 L650.28,332.03 L651.70,331.73 L653.12,331.42 L654.53,331.09 L655.95,330.75 L657.37,330.40 L658.79,330.03 L660.21,329.65 L661.62,329.25 L663.04,328.84 L664.46,328.41 L665.88,327.96 L667.29,327.49 L668.71,327.00 L670.13,326.49 L671.55,325.96 L672.97,325.40 L674.38,324.81 L675.80,324.20 L677.22,323.56 L678.64,322.89 L680.05,322.18 L681.47,321.45 L682.89,320.67 L684.31,319.86 L685.73,319.00 L687.14,318.10 L688.56,317.15 L689.98,316.16 L691.40,315.11 L692.82,314.00 L694.23,312.83 L695.65,311.60 L697.07,310.30 L698.49,308.93 L699.90,307.48 L701.32,305.95 L702.74,304.33 L704.16,302.62 L705.58,300.81 L706.99,298.89 L708.41,296.86 L709.83,294.72 L711.25,292.46 L712.66,290.06 L714.08,287.53 L715.50,284.86 L716.92,282.04 L718.34,279.07 L719.75,275.95 L721.17,272.68 L722.59,269.25 L724.01,265.67 L725.42,261.94 L726.84,258.08 L728.26,254.09 L729.68,250.00 L731.10,245.83 L732.51,241.61 L733.93,237.36 L735.35,233.10 L736.77,228.85 L738.18,224.60 L739.60,220.36 L741.02,216.09 L742.44,211.85 L743.86,207.73 L745.27,203.93 L746.69,200.74 L748.11,198.49 L749.53,197.45 L750.95,197.57 L752.36,198.33 L753.78,199.71 L755.20,201.67 L756.62,204.18 L758.03,207.19 L759.45,210.64 L760.87,214.48 L762.29,218.65 L763.71,223.09 L765.12,227.74 L766.54,232.53 L767.96,237.42 L769.38,242.36 L770.79,247.29 L772.21,252.18 L773.63,256.99 L775.05,261.69 L776.47,266.26 L777.88,270.66 L779.30,274.89 L780.72,278.94 L782.14,282.78 L783.55,286.43 L784.97,289.86 L786.39,293.09 L787.81,296.12 L789.23,298.94 L790.64,301.58 L792.06,304.02 L793.48,306.29 L794.90,308.39 L796.32,310.33 L797.73,312.12 L799.15,313.76 L800.57,315.28 L801.99,316.68 L803.40,317.97 L804.82,319.16 L806.24,320.26 L807.66,321.27 L809.08,322.20 L810.49,323.07 L811.91,323.87 L813.33,324.61 L814.75,325.31 L816.16,325.96 L817.58,326.56 L819.00,327.13 L820.42,327.66 L821.84,328.16 L823.25,328.63 L824.67,329.07 L826.09,329.49 L827.51,329.89 L828.92,330.27 L830.34,330.63 L831.76,330.97 L833.18,331.30 L834.60,331.61 L836.01,331.91 L837.43,332.19 L838.85,332.46 L840.27,332.72 L841.68,332.97 L843.10,333.21 L844.52,333.44 L845.94,333.66 L847.36,333.87 L848.77,334.07 L850.19,334.27 L851.61,334.45 L853.03,334.63 L854.45,334.81 L855.86,334.97 L857.28,335.13 L858.70,335.29 L860.12,335.44 L861.53,335.58 L862.95,335.72 L864.37,335.85 L865.79,335.98 L867.21,336.11 L868.62,336.23 L870.04,336.34 L871.46,336.46 L872.88,336.56 L874.29,336.67 L875.71,336.77 L877.13,336.87 L878.55,336.96 L879.97,337.05 L881.38,337.14 L882.80,337.23 L884.22,337.31 L885.64,337.39 L887.05,337.47 L888.47,337.54 L889.89,337.62 L891.31,337.69 L892.73,337.76 L894.14,337.82 L895.56,337.89 L896.98,337.95 L898.40,338.01 L899.82,338.07 L901.23,338.13 L902.65,338.18 L904.07,338.24 L905.49,338.29 L906.90,338.34 L908.32,338.39 L909.74,338.43 L911.16,338.48 L912.58,338.53 L913.99,338.57 L915.41,338.61 L916.83,338.65 L918.25,338.69 L919.66,338.73 L921.08,338.77 L922.50,338.81" fill="none" stroke="#7a80c8" stroke-width="4.4" stroke-linejoin="round" stroke-linecap="round"/>
<path d="M629.01,335.49 L630.43,335.31 L631.85,335.13 L633.27,334.93 L634.68,334.73 L636.10,334.53 L637.52,334.32 L638.94,334.10 L640.36,333.87 L641.77,333.63 L643.19,333.39 L644.61,333.14 L646.03,332.88 L647.45,332.60 L648.86,332.32 L650.28,332.03 L651.70,331.73 L653.12,331.42 L654.53,331.09 L655.95,330.75 L657.37,330.40 L658.79,330.03 L660.21,329.65 L661.62,329.25 L663.04,328.84 L664.46,328.41 L665.88,327.96 L667.29,327.49 L668.71,327.00 L670.13,326.49 L671.55,325.96 L672.97,325.40 L674.38,324.81 L675.80,324.20 L677.22,323.56 L678.64,322.89 L680.05,322.18 L681.47,321.45 L682.89,320.67 L684.31,319.86 L685.73,319.00 L687.14,318.10 L688.56,317.15 L689.98,316.16 L691.40,315.11 L692.82,314.00 L694.23,312.83 L695.65,311.60 L697.07,310.30 L698.49,308.93 L699.90,307.48 L701.32,305.95 L702.74,304.33 L704.16,302.62 L705.58,300.81 L706.99,298.89 L708.41,296.86 L709.83,294.72 L711.25,292.46 L712.66,290.06 L714.08,287.53 L715.50,284.86 L716.92,282.04 L718.34,279.07 L719.75,275.95 L721.17,272.68 L722.59,269.25 L724.01,265.67 L725.42,261.94 L726.84,258.08 L728.26,254.09 L729.68,250.00 L731.10,245.83 L732.51,241.61 L733.93,237.36 L735.35,233.10 L736.77,228.85 L738.18,224.60 L739.60,220.36 L741.02,216.09 L742.44,211.85 L743.86,207.73 L745.27,203.93 L746.69,200.74 L748.11,198.49 L749.53,197.45 L750.95,197.57 L752.36,198.33 L753.78,199.71 L755.20,201.67 L756.62,204.18 L758.03,207.19 L759.45,210.64 L760.87,214.48 L762.29,218.65 L763.71,223.09 L765.12,227.74 L766.54,232.53 L767.96,237.42 L769.38,242.36 L770.79,247.29 L772.21,252.18 L773.63,256.99 L775.05,261.69 L776.47,266.26 L777.88,270.66 L779.30,274.89 L780.72,278.94 L782.14,282.78 L783.55,286.43 L784.97,289.86 L786.39,293.09 L787.81,296.12 L789.23,298.94 L790.64,301.58 L792.06,304.02 L793.48,306.29 L794.90,308.39 L796.32,310.33 L797.73,312.12 L799.15,313.76 L800.57,315.28 L801.99,316.68 L803.40,317.97 L804.82,319.16 L806.24,320.26 L807.66,321.27 L809.08,322.20 L810.49,323.07 L811.91,323.87 L813.33,324.61 L814.75,325.31 L816.16,325.96 L817.58,326.56 L819.00,327.13 L820.42,327.66 L821.84,328.16 L823.25,328.63 L824.67,329.07 L826.09,329.49 L827.51,329.89 L828.92,330.27 L830.34,330.63 L831.76,330.97 L833.18,331.30 L834.60,331.61 L836.01,331.91 L837.43,332.19 L838.85,332.46 L840.27,332.72 L841.68,332.97 L843.10,333.21 L844.52,333.44 L845.94,333.66 L847.36,333.87 L848.77,334.07 L850.19,334.27 L851.61,334.45 L853.03,334.63 L854.45,334.81 L855.86,334.97 L857.28,335.13 L858.70,335.29 L860.12,335.44 L861.53,335.58 L862.95,335.72 L864.37,335.85 L865.79,335.98 L867.21,336.11 L868.62,336.23 L870.04,336.34 L871.46,336.46 L872.88,336.56 L874.29,336.67 L875.71,336.77 L877.13,336.87 L878.55,336.96 L879.97,337.05 L881.38,337.14 L882.80,337.23 L884.22,337.31 L885.64,337.39 L887.05,337.47 L888.47,337.54 L889.89,337.62 L891.31,337.69 L892.73,337.76 L894.14,337.82 L895.56,337.89 L896.98,337.95 L898.40,338.01 L899.82,338.07 L901.23,338.13 L902.65,338.18 L904.07,338.24 L905.49,338.29 L906.90,338.34 L908.32,338.39 L909.74,338.43 L911.16,338.48 L912.58,338.53 L913.99,338.57 L915.41,338.61 L916.83,338.65 L918.25,338.69 L919.66,338.73 L921.08,338.77 L922.50,338.81" fill="none" stroke="#262f98" stroke-width="1.4" stroke-linejoin="round" stroke-linecap="round" stroke-dasharray="1.0 2.4" stroke-linecap="butt"/>
<path d="M795.50,71.60 L790.80,92.10 L786.20,113.50 L778.60,134.90 L770.70,155.80 L760.30,176.70 L749.90,197.40" fill="none" stroke="#2a2a2a" stroke-width="2.3" stroke-linejoin="round" stroke-linecap="round" stroke-dasharray="1.8 3.2" stroke-linecap="butt"/>
<rect x="611" y="57.5" width="312.5" height="291.0" fill="none" stroke="#000" stroke-width="2"/>
<line x1="714.80" y1="348.50" x2="714.80" y2="334.50" stroke="#000" stroke-width="2"/>
<line x1="818.60" y1="348.50" x2="818.60" y2="334.50" stroke="#000" stroke-width="2"/>
<text x="610.60" y="380.80" font-size="24.5" text-anchor="middle" fill="#000">0.9</text>
<text x="715.20" y="380.80" font-size="24.5" text-anchor="middle" fill="#000">1.0</text>
<text x="819.00" y="380.80" font-size="24.5" text-anchor="middle" fill="#000">1.1</text>
<text x="924.00" y="380.80" font-size="24.5" text-anchor="middle" fill="#000">1.2</text>
<text x="767.80" y="424.60" font-size="25.2" text-anchor="middle" fill="#000">Energy (eV)</text>
<text x="936.30" y="82.40" font-size="24.5" fill="#000">Fluence</text>
<text x="936.30" y="120.00" font-size="24.5" fill="#000">(μJ cm</text>
<text x="1009.50" y="103.50" font-size="17.5" fill="#000">-2</text>
<text x="1026.30" y="120.00" font-size="24.5" fill="#000">)</text>
<line x1="937.40" y1="139.40" x2="976.50" y2="139.40" stroke="#cc8088" stroke-width="4"/>
<text x="986.00" y="146.90" font-size="24.5" fill="#000">11.35</text>
<line x1="937.40" y1="166.73" x2="976.50" y2="166.73" stroke="#f7c070" stroke-width="4"/>
<text x="986.00" y="174.23" font-size="24.5" fill="#000">9.46</text>
<line x1="937.40" y1="194.06" x2="976.50" y2="194.06" stroke="#7ee0a0" stroke-width="4"/>
<text x="986.00" y="201.56" font-size="24.5" fill="#000">7.57</text>
<line x1="937.40" y1="221.39" x2="976.50" y2="221.39" stroke="#98cfa5" stroke-width="4"/>
<text x="986.00" y="228.89" font-size="24.5" fill="#000">5.68</text>
<line x1="937.40" y1="248.72" x2="976.50" y2="248.72" stroke="#5cbaba" stroke-width="4"/>
<text x="986.00" y="256.22" font-size="24.5" fill="#000">3.78</text>
<line x1="937.40" y1="276.05" x2="976.50" y2="276.05" stroke="#6ab0f5" stroke-width="4"/>
<text x="986.00" y="283.55" font-size="24.5" fill="#000">1.89</text>
<line x1="937.40" y1="303.38" x2="976.50" y2="303.38" stroke="#7a80c8" stroke-width="4"/>
<text x="986.00" y="310.88" font-size="24.5" fill="#000">0.47</text>
<text x="16.00" y="476.00" font-size="26" font-weight="bold" fill="#000">c</text>
<text x="181.3" y="475" font-size="24.5">Fluence (μJ cm<tspan font-size="17.5" dy="-17.5">-2</tspan><tspan dy="17.5" dx="1">)</tspan></text>
<line x1="126.52" y1="535.50" x2="126.52" y2="542.50" stroke="#000" stroke-width="2"/>
<line x1="138.13" y1="535.50" x2="138.13" y2="542.50" stroke="#000" stroke-width="2"/>
<line x1="147.13" y1="535.50" x2="147.13" y2="542.50" stroke="#000" stroke-width="2"/>
<line x1="154.49" y1="535.50" x2="154.49" y2="542.50" stroke="#000" stroke-width="2"/>
<line x1="160.71" y1="535.50" x2="160.71" y2="542.50" stroke="#000" stroke-width="2"/>
<line x1="166.10" y1="535.50" x2="166.10" y2="542.50" stroke="#000" stroke-width="2"/>
<line x1="170.85" y1="535.50" x2="170.85" y2="542.50" stroke="#000" stroke-width="2"/>
<line x1="175.10" y1="535.50" x2="175.10" y2="549.50" stroke="#000" stroke-width="2"/>
<line x1="203.07" y1="535.50" x2="203.07" y2="542.50" stroke="#000" stroke-width="2"/>
<line x1="219.42" y1="535.50" x2="219.42" y2="542.50" stroke="#000" stroke-width="2"/>
<line x1="231.03" y1="535.50" x2="231.03" y2="542.50" stroke="#000" stroke-width="2"/>
<line x1="240.03" y1="535.50" x2="240.03" y2="542.50" stroke="#000" stroke-width="2"/>
<line x1="247.39" y1="535.50" x2="247.39" y2="542.50" stroke="#000" stroke-width="2"/>
<line x1="253.61" y1="535.50" x2="253.61" y2="542.50" stroke="#000" stroke-width="2"/>
<line x1="259.00" y1="535.50" x2="259.00" y2="542.50" stroke="#000" stroke-width="2"/>
<line x1="263.75" y1="535.50" x2="263.75" y2="542.50" stroke="#000" stroke-width="2"/>
<line x1="268.00" y1="535.50" x2="268.00" y2="549.50" stroke="#000" stroke-width="2"/>
<line x1="295.97" y1="535.50" x2="295.97" y2="542.50" stroke="#000" stroke-width="2"/>
<line x1="312.32" y1="535.50" x2="312.32" y2="542.50" stroke="#000" stroke-width="2"/>
<line x1="323.93" y1="535.50" x2="323.93" y2="542.50" stroke="#000" stroke-width="2"/>
<line x1="332.93" y1="535.50" x2="332.93" y2="542.50" stroke="#000" stroke-width="2"/>
<line x1="340.29" y1="535.50" x2="340.29" y2="542.50" stroke="#000" stroke-width="2"/>
<line x1="346.51" y1="535.50" x2="346.51" y2="542.50" stroke="#000" stroke-width="2"/>
<line x1="351.90" y1="535.50" x2="351.90" y2="542.50" stroke="#000" stroke-width="2"/>
<line x1="356.65" y1="535.50" x2="356.65" y2="542.50" stroke="#000" stroke-width="2"/>
<line x1="360.90" y1="535.50" x2="360.90" y2="549.50" stroke="#000" stroke-width="2"/>
<line x1="388.87" y1="535.50" x2="388.87" y2="542.50" stroke="#000" stroke-width="2"/>
<line x1="405.22" y1="535.50" x2="405.22" y2="542.50" stroke="#000" stroke-width="2"/>
<line x1="416.83" y1="535.50" x2="416.83" y2="542.50" stroke="#000" stroke-width="2"/>
<line x1="425.83" y1="535.50" x2="425.83" y2="542.50" stroke="#000" stroke-width="2"/>
<line x1="124.16" y1="840.80" x2="124.16" y2="833.80" stroke="#000" stroke-width="2"/>
<line x1="131.51" y1="840.80" x2="131.51" y2="833.80" stroke="#000" stroke-width="2"/>
<line x1="137.73" y1="840.80" x2="137.73" y2="833.80" stroke="#000" stroke-width="2"/>
<line x1="143.11" y1="840.80" x2="143.11" y2="833.80" stroke="#000" stroke-width="2"/>
<line x1="147.85" y1="840.80" x2="147.85" y2="833.80" stroke="#000" stroke-width="2"/>
<line x1="152.10" y1="840.80" x2="152.10" y2="826.80" stroke="#000" stroke-width="2"/>
<line x1="180.04" y1="840.80" x2="180.04" y2="833.80" stroke="#000" stroke-width="2"/>
<line x1="196.38" y1="840.80" x2="196.38" y2="833.80" stroke="#000" stroke-width="2"/>
<line x1="207.97" y1="840.80" x2="207.97" y2="833.80" stroke="#000" stroke-width="2"/>
<line x1="216.96" y1="840.80" x2="216.96" y2="833.80" stroke="#000" stroke-width="2"/>
<line x1="224.31" y1="840.80" x2="224.31" y2="833.80" stroke="#000" stroke-width="2"/>
<line x1="230.53" y1="840.80" x2="230.53" y2="833.80" stroke="#000" stroke-width="2"/>
<line x1="235.91" y1="840.80" x2="235.91" y2="833.80" stroke="#000" stroke-width="2"/>
<line x1="240.65" y1="840.80" x2="240.65" y2="833.80" stroke="#000" stroke-width="2"/>
<line x1="244.90" y1="840.80" x2="244.90" y2="826.80" stroke="#000" stroke-width="2"/>
<line x1="272.84" y1="840.80" x2="272.84" y2="833.80" stroke="#000" stroke-width="2"/>
<line x1="289.18" y1="840.80" x2="289.18" y2="833.80" stroke="#000" stroke-width="2"/>
<line x1="300.77" y1="840.80" x2="300.77" y2="833.80" stroke="#000" stroke-width="2"/>
<line x1="309.76" y1="840.80" x2="309.76" y2="833.80" stroke="#000" stroke-width="2"/>
<line x1="317.11" y1="840.80" x2="317.11" y2="833.80" stroke="#000" stroke-width="2"/>
<line x1="323.33" y1="840.80" x2="323.33" y2="833.80" stroke="#000" stroke-width="2"/>
<line x1="328.71" y1="840.80" x2="328.71" y2="833.80" stroke="#000" stroke-width="2"/>
<line x1="333.45" y1="840.80" x2="333.45" y2="833.80" stroke="#000" stroke-width="2"/>
<line x1="337.70" y1="840.80" x2="337.70" y2="826.80" stroke="#000" stroke-width="2"/>
<line x1="365.64" y1="840.80" x2="365.64" y2="833.80" stroke="#000" stroke-width="2"/>
<line x1="381.98" y1="840.80" x2="381.98" y2="833.80" stroke="#000" stroke-width="2"/>
<line x1="393.57" y1="840.80" x2="393.57" y2="833.80" stroke="#000" stroke-width="2"/>
<line x1="402.56" y1="840.80" x2="402.56" y2="833.80" stroke="#000" stroke-width="2"/>
<line x1="409.91" y1="840.80" x2="409.91" y2="833.80" stroke="#000" stroke-width="2"/>
<line x1="416.13" y1="840.80" x2="416.13" y2="833.80" stroke="#000" stroke-width="2"/>
<line x1="421.51" y1="840.80" x2="421.51" y2="833.80" stroke="#000" stroke-width="2"/>
<line x1="426.25" y1="840.80" x2="426.25" y2="833.80" stroke="#000" stroke-width="2"/>
<line x1="430.50" y1="840.80" x2="430.50" y2="826.80" stroke="#000" stroke-width="2"/>
<line x1="120.20" y1="618.30" x2="135.20" y2="618.30" stroke="#000" stroke-width="2"/>
<line x1="120.20" y1="729.40" x2="135.20" y2="729.40" stroke="#000" stroke-width="2"/>
<text x="175.10" y="521.90" font-size="25.5" text-anchor="middle" fill="#000">10<tspan font-size="17" dy="-16.9">-2</tspan></text>
<text x="268.00" y="521.90" font-size="25.5" text-anchor="middle" fill="#000">10<tspan font-size="17" dy="-16.9">-1</tspan></text>
<text x="360.90" y="521.90" font-size="25.5" text-anchor="middle" fill="#000">1</text>
<text x="153.10" y="882.70" font-size="25.5" text-anchor="middle" fill="#000">10<tspan font-size="17" dy="-16.9">-4</tspan></text>
<text x="245.50" y="882.70" font-size="25.5" text-anchor="middle" fill="#000">10<tspan font-size="17" dy="-16.9">-3</tspan></text>
<text x="338.30" y="882.70" font-size="25.5" text-anchor="middle" fill="#000">10<tspan font-size="17" dy="-16.9">-2</tspan></text>
<text x="429.50" y="882.70" font-size="25.5" text-anchor="middle" fill="#000">10<tspan font-size="17" dy="-16.9">-1</tspan></text>
<text x="110.70" y="627.80" font-size="24.4" text-anchor="end" fill="#000">1.474</text>
<text x="110.70" y="738.80" font-size="24.4" text-anchor="end" fill="#000">1.472</text>
<text x="110.70" y="850.00" font-size="24.4" text-anchor="end" fill="#000">1.470</text>
<text x="277.2" y="922.4" font-size="24.5" text-anchor="middle">n (10<tspan font-size="17" dy="-17">18</tspan><tspan dy="17"> cm</tspan><tspan font-size="17" dy="-17">-3</tspan><tspan dy="17">)</tspan></text>
<text x="0.00" y="0.00" font-size="24.85" text-anchor="middle" fill="#000" transform="translate(34.2,688) rotate(-90)">PL Peak Energy (eV)</text>
<clipPath id="cc"><rect x="120.2" y="535.5" width="312.1" height="305.3"/></clipPath>
<path d="M120.20,678.59 L121.77,678.54 L123.34,678.49 L124.91,678.44 L126.47,678.39 L128.04,678.33 L129.61,678.28 L131.18,678.23 L132.75,678.17 L134.32,678.11 L135.88,678.05 L137.45,677.99 L139.02,677.92 L140.59,677.86 L142.16,677.79 L143.73,677.72 L145.29,677.65 L146.86,677.58 L148.43,677.51 L150.00,677.43 L151.57,677.35 L153.14,677.27 L154.70,677.19 L156.27,677.11 L157.84,677.02 L159.41,676.93 L160.98,676.84 L162.55,676.75 L164.11,676.65 L165.68,676.55 L167.25,676.45 L168.82,676.35 L170.39,676.24 L171.96,676.13 L173.52,676.02 L175.09,675.90 L176.66,675.78 L178.23,675.66 L179.80,675.54 L181.37,675.41 L182.93,675.28 L184.50,675.15 L186.07,675.01 L187.64,674.87 L189.21,674.72 L190.78,674.57 L192.34,674.42 L193.91,674.26 L195.48,674.10 L197.05,673.93 L198.62,673.76 L200.19,673.59 L201.75,673.41 L203.32,673.23 L204.89,673.04 L206.46,672.84 L208.03,672.65 L209.60,672.44 L211.16,672.23 L212.73,672.02 L214.30,671.80 L215.87,671.57 L217.44,671.34 L219.01,671.10 L220.57,670.86 L222.14,670.61 L223.71,670.35 L225.28,670.09 L226.85,669.81 L228.42,669.54 L229.98,669.25 L231.55,668.96 L233.12,668.66 L234.69,668.35 L236.26,668.03 L237.83,667.71 L239.39,667.37 L240.96,667.03 L242.53,666.68 L244.10,666.32 L245.67,665.95 L247.24,665.57 L248.80,665.18 L250.37,664.78 L251.94,664.37 L253.51,663.95 L255.08,663.51 L256.65,663.07 L258.21,662.61 L259.78,662.15 L261.35,661.67 L262.92,661.17 L264.49,660.67 L266.06,660.15 L267.62,659.62 L269.19,659.07 L270.76,658.51 L272.33,657.94 L273.90,657.35 L275.47,656.74 L277.03,656.12 L278.60,655.48 L280.17,654.83 L281.74,654.15 L283.31,653.46 L284.88,652.76 L286.44,652.03 L288.01,651.28 L289.58,650.52 L291.15,649.73 L292.72,648.93 L294.29,648.10 L295.85,647.25 L297.42,646.38 L298.99,645.49 L300.56,644.57 L302.13,643.63 L303.70,642.66 L305.26,641.67 L306.83,640.65 L308.40,639.60 L309.97,638.53 L311.54,637.43 L313.11,636.30 L314.67,635.14 L316.24,633.95 L317.81,632.73 L319.38,631.48 L320.95,630.20 L322.52,628.88 L324.08,627.52 L325.65,626.13 L327.22,624.71 L328.79,623.24 L330.36,621.74 L331.93,620.20 L333.49,618.62 L335.06,616.99 L336.63,615.33 L338.20,613.61 L339.77,611.86 L341.34,610.06 L342.90,608.21 L344.47,606.31 L346.04,604.37 L347.61,602.37 L349.18,600.32 L350.75,598.21 L352.31,596.05 L353.88,593.83 L355.45,591.56 L357.02,589.22 L358.59,586.83 L360.16,584.37 L361.72,581.84 L363.29,579.25 L364.86,576.60 L366.43,573.87 L368.00,571.07 L369.57,568.19 L371.13,565.25 L372.70,562.22 L374.27,559.11 L375.84,555.92 L377.41,552.65 L378.98,549.30 L380.54,545.85 L382.11,542.31 L383.68,538.68 L384.70,536.00" fill="none" stroke="#d4900f" stroke-width="2.2" stroke-linejoin="round" stroke-linecap="round" clip-path="url(#cc)"/>
<path d="M120.20,700.50 L124.40,701.40 L128.60,702.20 L132.70,703.10 L136.90,704.00 L141.10,704.90 L145.30,705.80 L149.50,706.80 L153.70,707.80 L157.80,708.80 L162.00,709.80 L166.20,710.80 L170.40,711.90 L174.60,713.00 L178.80,714.20 L182.90,715.40 L187.10,716.60 L191.30,717.90 L195.50,719.30 L199.70,720.60 L203.90,722.10 L208.00,723.50 L212.20,725.10 L216.40,726.70 L220.60,728.30 L224.80,730.00 L229.00,731.80 L233.10,733.70 L237.30,735.60 L241.50,737.60 L245.70,739.60 L249.90,741.70 L254.10,744.00 L258.20,746.20 L262.40,748.60 L266.60,751.10 L270.80,753.60 L275.00,756.20 L279.20,758.90 L283.30,761.80 L287.50,764.70 L291.70,767.70 L295.90,770.80 L300.10,774.00 L304.30,777.30 L308.40,780.70 L312.60,784.20 L316.80,787.90 L321.00,791.60 L325.20,795.50 L329.40,799.40 L333.50,803.50 L337.70,807.80 L341.90,812.10 L346.10,816.60 L350.30,821.20 L354.50,825.90 L358.60,830.80 L362.80,835.80 L367.00,840.90" fill="none" stroke="#15971d" stroke-width="2.1" stroke-linejoin="round" stroke-linecap="round" clip-path="url(#cc)"/>
<circle cx="140.0" cy="711.2" r="5.2" fill="none" stroke="#3d6ef4" stroke-width="2.0"/>
<circle cx="167.5" cy="715.3" r="5.2" fill="none" stroke="#3d6ef4" stroke-width="2.0"/>
<circle cx="183.6" cy="715.5" r="5.2" fill="none" stroke="#3d6ef4" stroke-width="2.0"/>
<circle cx="195.8" cy="713.8" r="5.2" fill="none" stroke="#3d6ef4" stroke-width="2.0"/>
<circle cx="204.6" cy="713.8" r="5.2" fill="none" stroke="#3d6ef4" stroke-width="2.0"/>
<circle cx="211.6" cy="718.3" r="5.2" fill="none" stroke="#3d6ef4" stroke-width="2.0"/>
<circle cx="217.9" cy="715.3" r="5.2" fill="none" stroke="#3d6ef4" stroke-width="2.0"/>
<circle cx="223.2" cy="720.3" r="5.2" fill="none" stroke="#3d6ef4" stroke-width="2.0"/>
<circle cx="232.4" cy="718.0" r="5.2" fill="none" stroke="#3d6ef4" stroke-width="2.0"/>
<circle cx="239.9" cy="717.5" r="5.2" fill="none" stroke="#3d6ef4" stroke-width="2.0"/>
<circle cx="246.2" cy="715.3" r="5.2" fill="none" stroke="#3d6ef4" stroke-width="2.0"/>
<circle cx="250.7" cy="720.8" r="5.2" fill="none" stroke="#3d6ef4" stroke-width="2.0"/>
<circle cx="255.7" cy="721.3" r="5.2" fill="none" stroke="#3d6ef4" stroke-width="2.0"/>
<circle cx="260.7" cy="720.8" r="5.2" fill="none" stroke="#3d6ef4" stroke-width="2.0"/>
<circle cx="287.8" cy="728.0" r="5.2" fill="none" stroke="#3d6ef4" stroke-width="2.0"/>
<circle cx="304.7" cy="725.5" r="5.2" fill="none" stroke="#3d6ef4" stroke-width="2.0"/>
<circle cx="316.2" cy="734.9" r="5.2" fill="none" stroke="#3d6ef4" stroke-width="2.0"/>
<circle cx="324.7" cy="738.0" r="5.2" fill="none" stroke="#3d6ef4" stroke-width="2.0"/>
<circle cx="332.5" cy="732.4" r="5.2" fill="none" stroke="#3d6ef4" stroke-width="2.0"/>
<circle cx="337.5" cy="739.9" r="5.2" fill="none" stroke="#3d6ef4" stroke-width="2.0"/>
<circle cx="343.1" cy="738.7" r="5.2" fill="none" stroke="#3d6ef4" stroke-width="2.0"/>
<circle cx="349.3" cy="739.9" r="5.2" fill="none" stroke="#3d6ef4" stroke-width="2.0"/>
<circle cx="353.1" cy="743.7" r="5.2" fill="none" stroke="#3d6ef4" stroke-width="2.0"/>
<circle cx="424.9" cy="654.0" r="5.2" fill="none" stroke="#3d6ef4" stroke-width="2.0"/>
<circle cx="422.6" cy="663.8" r="5.2" fill="none" stroke="#3d6ef4" stroke-width="2.0"/>
<circle cx="421.0" cy="670.5" r="5.2" fill="none" stroke="#3d6ef4" stroke-width="2.0"/>
<circle cx="358.5" cy="741.9" r="5.2" fill="none" stroke="#3d6ef4" stroke-width="2.0"/>
<circle cx="361.8" cy="741.0" r="5.2" fill="none" stroke="#3d6ef4" stroke-width="2.0"/>
<circle cx="365.4" cy="739.7" r="5.2" fill="none" stroke="#3d6ef4" stroke-width="2.0"/>
<circle cx="368.7" cy="738.3" r="5.2" fill="none" stroke="#3d6ef4" stroke-width="2.0"/>
<circle cx="372.0" cy="736.7" r="5.2" fill="none" stroke="#3d6ef4" stroke-width="2.0"/>
<circle cx="375.0" cy="735.1" r="5.2" fill="none" stroke="#3d6ef4" stroke-width="2.0"/>
<circle cx="378.0" cy="733.3" r="5.2" fill="none" stroke="#3d6ef4" stroke-width="2.0"/>
<circle cx="381.1" cy="731.2" r="5.2" fill="none" stroke="#3d6ef4" stroke-width="2.0"/>
<circle cx="384.0" cy="729.1" r="5.2" fill="none" stroke="#3d6ef4" stroke-width="2.0"/>
<circle cx="386.7" cy="726.9" r="5.2" fill="none" stroke="#3d6ef4" stroke-width="2.0"/>
<circle cx="389.4" cy="724.5" r="5.2" fill="none" stroke="#3d6ef4" stroke-width="2.0"/>
<circle cx="392.0" cy="722.0" r="5.2" fill="none" stroke="#3d6ef4" stroke-width="2.0"/>
<circle cx="394.4" cy="719.5" r="5.2" fill="none" stroke="#3d6ef4" stroke-width="2.0"/>
<circle cx="396.7" cy="716.9" r="5.2" fill="none" stroke="#3d6ef4" stroke-width="2.0"/>
<circle cx="398.9" cy="714.3" r="5.2" fill="none" stroke="#3d6ef4" stroke-width="2.0"/>
<circle cx="401.2" cy="711.5" r="5.2" fill="none" stroke="#3d6ef4" stroke-width="2.0"/>
<circle cx="403.2" cy="708.8" r="5.2" fill="none" stroke="#3d6ef4" stroke-width="2.0"/>
<circle cx="405.3" cy="705.9" r="5.2" fill="none" stroke="#3d6ef4" stroke-width="2.0"/>
<circle cx="407.2" cy="703.1" r="5.2" fill="none" stroke="#3d6ef4" stroke-width="2.0"/>
<circle cx="409.2" cy="700.1" r="5.2" fill="none" stroke="#3d6ef4" stroke-width="2.0"/>
<circle cx="411.0" cy="697.3" r="5.2" fill="none" stroke="#3d6ef4" stroke-width="2.0"/>
<circle cx="412.9" cy="694.2" r="5.2" fill="none" stroke="#3d6ef4" stroke-width="2.0"/>
<circle cx="414.6" cy="691.3" r="5.2" fill="none" stroke="#3d6ef4" stroke-width="2.0"/>
<circle cx="416.3" cy="688.2" r="5.2" fill="none" stroke="#3d6ef4" stroke-width="2.0"/>
<circle cx="417.9" cy="685.2" r="5.2" fill="none" stroke="#3d6ef4" stroke-width="2.0"/>
<circle cx="419.5" cy="682.2" r="5.2" fill="none" stroke="#3d6ef4" stroke-width="2.0"/>
<circle cx="421.1" cy="679.0" r="5.2" fill="none" stroke="#3d6ef4" stroke-width="2.0"/>
<circle cx="422.5" cy="676.0" r="5.2" fill="none" stroke="#3d6ef4" stroke-width="2.0"/>
<circle cx="424.0" cy="672.9" r="5.2" fill="none" stroke="#3d6ef4" stroke-width="2.0"/>
<path d="M120.20,699.60 L124.20,700.10 L128.10,700.60 L132.10,701.20 L136.00,701.80 L140.00,702.40 L143.90,703.10 L147.90,703.80 L151.90,704.50 L155.80,705.30 L159.80,706.00 L163.70,706.80 L167.70,707.70 L171.60,708.50 L175.60,709.30 L179.60,710.20 L183.50,711.10 L187.50,712.00 L191.40,712.90 L195.40,713.90 L199.30,714.80 L203.30,715.80 L207.30,716.70 L211.20,717.70 L215.20,718.70 L219.10,719.70 L223.10,720.70 L227.00,721.60 L231.00,722.60 L235.00,723.60 L238.90,724.60 L242.90,725.60 L246.80,726.50 L250.80,727.50 L254.70,728.50 L258.70,729.40 L262.70,730.40 L266.60,731.30 L270.60,732.20 L274.50,733.10 L278.50,734.00 L282.40,734.80 L286.40,735.60 L290.30,736.40 L294.30,737.10 L298.30,737.80 L302.20,738.40 L306.20,739.00 L310.10,739.50 L314.10,740.00 L318.00,740.30 L322.00,740.60 L326.00,740.90 L329.90,741.00 L333.90,741.10 L337.80,741.00 L341.80,740.90 L345.70,740.60 L349.70,740.10 L353.70,739.40 L357.60,738.40 L361.60,737.30 L365.50,735.80 L369.50,734.00 L373.40,731.90 L377.40,729.50 L381.40,726.60 L385.30,723.40 L389.30,719.70 L393.20,715.50 L397.20,710.80 L401.10,705.60 L405.10,699.90 L409.10,693.60 L413.00,686.70 L417.00,679.20 L420.90,671.00 L424.90,662.10 L428.80,652.60 L432.80,642.30" fill="none" stroke="#2b2b2b" stroke-width="2.1" stroke-linejoin="round" stroke-linecap="round" clip-path="url(#cc)"/>
<text x="145.60" y="622.70" font-size="24.6" fill="#d4900f">Band Filling</text>
<text x="318.50" y="702.40" font-size="24.3" fill="#333">Sum</text>
<text x="140.00" y="783.20" font-size="24.6" fill="#15971d">Bandgap</text>
<text x="140.00" y="811.00" font-size="24.6" fill="#15971d">Renormalization</text>
<rect x="120.2" y="535.5" width="312.1" height="305.29999999999995" fill="none" stroke="#000" stroke-width="2"/>
<text x="508.90" y="476.00" font-size="26" font-weight="bold" fill="#000">d</text>
<text x="672.1" y="475" font-size="24.5">Fluence (μJ cm<tspan font-size="17.5" dy="-17.5">-2</tspan><tspan dy="17.5" dx="1">)</tspan></text>
<line x1="619.15" y1="535.80" x2="619.15" y2="549.80" stroke="#000" stroke-width="2"/>
<line x1="659.98" y1="535.80" x2="659.98" y2="542.80" stroke="#000" stroke-width="2"/>
<line x1="683.87" y1="535.80" x2="683.87" y2="542.80" stroke="#000" stroke-width="2"/>
<line x1="700.82" y1="535.80" x2="700.82" y2="542.80" stroke="#000" stroke-width="2"/>
<line x1="713.97" y1="535.80" x2="713.97" y2="542.80" stroke="#000" stroke-width="2"/>
<line x1="724.71" y1="535.80" x2="724.71" y2="542.80" stroke="#000" stroke-width="2"/>
<line x1="733.79" y1="535.80" x2="733.79" y2="542.80" stroke="#000" stroke-width="2"/>
<line x1="741.65" y1="535.80" x2="741.65" y2="542.80" stroke="#000" stroke-width="2"/>
<line x1="748.59" y1="535.80" x2="748.59" y2="542.80" stroke="#000" stroke-width="2"/>
<line x1="754.80" y1="535.80" x2="754.80" y2="549.80" stroke="#000" stroke-width="2"/>
<line x1="795.63" y1="535.80" x2="795.63" y2="542.80" stroke="#000" stroke-width="2"/>
<line x1="819.52" y1="535.80" x2="819.52" y2="542.80" stroke="#000" stroke-width="2"/>
<line x1="836.47" y1="535.80" x2="836.47" y2="542.80" stroke="#000" stroke-width="2"/>
<line x1="849.62" y1="535.80" x2="849.62" y2="542.80" stroke="#000" stroke-width="2"/>
<line x1="860.36" y1="535.80" x2="860.36" y2="542.80" stroke="#000" stroke-width="2"/>
<line x1="869.44" y1="535.80" x2="869.44" y2="542.80" stroke="#000" stroke-width="2"/>
<line x1="877.30" y1="535.80" x2="877.30" y2="542.80" stroke="#000" stroke-width="2"/>
<line x1="884.24" y1="535.80" x2="884.24" y2="542.80" stroke="#000" stroke-width="2"/>
<line x1="890.45" y1="535.80" x2="890.45" y2="549.80" stroke="#000" stroke-width="2"/>
<line x1="619.09" y1="840.60" x2="619.09" y2="833.60" stroke="#000" stroke-width="2"/>
<line x1="626.01" y1="840.60" x2="626.01" y2="833.60" stroke="#000" stroke-width="2"/>
<line x1="632.20" y1="840.60" x2="632.20" y2="826.60" stroke="#000" stroke-width="2"/>
<line x1="672.91" y1="840.60" x2="672.91" y2="833.60" stroke="#000" stroke-width="2"/>
<line x1="696.73" y1="840.60" x2="696.73" y2="833.60" stroke="#000" stroke-width="2"/>
<line x1="713.63" y1="840.60" x2="713.63" y2="833.60" stroke="#000" stroke-width="2"/>
<line x1="726.74" y1="840.60" x2="726.74" y2="833.60" stroke="#000" stroke-width="2"/>
<line x1="737.44" y1="840.60" x2="737.44" y2="833.60" stroke="#000" stroke-width="2"/>
<line x1="746.50" y1="840.60" x2="746.50" y2="833.60" stroke="#000" stroke-width="2"/>
<line x1="754.34" y1="840.60" x2="754.34" y2="833.60" stroke="#000" stroke-width="2"/>
<line x1="761.26" y1="840.60" x2="761.26" y2="833.60" stroke="#000" stroke-width="2"/>
<line x1="767.45" y1="840.60" x2="767.45" y2="826.60" stroke="#000" stroke-width="2"/>
<line x1="808.16" y1="840.60" x2="808.16" y2="833.60" stroke="#000" stroke-width="2"/>
<line x1="831.98" y1="840.60" x2="831.98" y2="833.60" stroke="#000" stroke-width="2"/>
<line x1="848.88" y1="840.60" x2="848.88" y2="833.60" stroke="#000" stroke-width="2"/>
<line x1="861.99" y1="840.60" x2="861.99" y2="833.60" stroke="#000" stroke-width="2"/>
<line x1="872.69" y1="840.60" x2="872.69" y2="833.60" stroke="#000" stroke-width="2"/>
<line x1="881.75" y1="840.60" x2="881.75" y2="833.60" stroke="#000" stroke-width="2"/>
<line x1="889.59" y1="840.60" x2="889.59" y2="833.60" stroke="#000" stroke-width="2"/>
<line x1="896.51" y1="840.60" x2="896.51" y2="833.60" stroke="#000" stroke-width="2"/>
<line x1="902.70" y1="840.60" x2="902.70" y2="826.60" stroke="#000" stroke-width="2"/>
<line x1="613.40" y1="581.10" x2="627.90" y2="581.10" stroke="#000" stroke-width="2"/>
<line x1="613.40" y1="660.00" x2="627.90" y2="660.00" stroke="#000" stroke-width="2"/>
<line x1="613.40" y1="739.60" x2="627.90" y2="739.60" stroke="#000" stroke-width="2"/>
<line x1="613.40" y1="820.40" x2="627.90" y2="820.40" stroke="#000" stroke-width="2"/>
<text x="619.70" y="522.00" font-size="25.5" text-anchor="middle" fill="#000">10<tspan font-size="17" dy="-16.9">-1</tspan></text>
<text x="754.00" y="522.00" font-size="25.5" text-anchor="middle" fill="#000">1</text>
<text x="891.40" y="522.00" font-size="25.5" text-anchor="middle" fill="#000">10</text>
<text x="632.40" y="882.10" font-size="25.5" text-anchor="middle" fill="#000">10<tspan font-size="17" dy="-16.9">-2</tspan></text>
<text x="767.70" y="882.10" font-size="25.5" text-anchor="middle" fill="#000">10<tspan font-size="17" dy="-16.9">-1</tspan></text>
<text x="903.00" y="872.40" font-size="25.5" text-anchor="middle" fill="#000">1</text>
<text x="603.50" y="590.10" font-size="24.4" text-anchor="end" fill="#000">1.08</text>
<text x="603.50" y="669.00" font-size="24.4" text-anchor="end" fill="#000">1.06</text>
<text x="603.50" y="748.60" font-size="24.4" text-anchor="end" fill="#000">1.04</text>
<text x="603.50" y="829.40" font-size="24.4" text-anchor="end" fill="#000">1.02</text>
<text x="769.6" y="920.9" font-size="24.5" text-anchor="middle">n (10<tspan font-size="17" dy="-17">18</tspan><tspan dy="17"> cm</tspan><tspan font-size="17" dy="-17">-3</tspan><tspan dy="17">)</tspan></text>
<text x="0.00" y="0.00" font-size="24.85" text-anchor="middle" fill="#000" transform="translate(527,687.5) rotate(-90)">PL Peak Energy (eV)</text>
<clipPath id="cd"><rect x="613.4" y="535.8" width="312.0" height="304.8"/></clipPath>
<path d="M613.20,786.70 C621.45,785.87 648.58,783.50 662.70,781.70 C676.82,779.90 686.18,778.30 697.90,775.90 C709.62,773.50 721.28,770.82 733.00,767.30 C744.72,763.78 758.70,758.85 768.20,754.80 C777.70,750.75 782.77,747.38 790.00,743.00 C797.23,738.62 802.73,735.68 811.60,728.50 C820.47,721.32 834.43,708.17 843.20,699.90 C851.97,691.63 858.43,685.17 864.20,678.90 C869.97,672.63 873.03,669.08 877.80,662.30 C882.57,655.52 888.28,645.72 892.80,638.20 C897.32,630.68 901.38,624.22 904.90,617.20 C908.42,610.18 911.38,602.13 913.90,596.10 C916.42,590.07 917.98,586.35 920.00,581.00 C922.02,575.65 925.00,566.83 926.00,564.00" fill="none" stroke="#d4900f" stroke-width="2.2" stroke-linejoin="round" clip-path="url(#cd)"/>
<circle cx="634.0" cy="794.7" r="5.2" fill="none" stroke="#3d6ef4" stroke-width="2.0"/>
<circle cx="674.7" cy="787.5" r="5.2" fill="none" stroke="#3d6ef4" stroke-width="2.0"/>
<circle cx="698.9" cy="780.3" r="5.2" fill="none" stroke="#3d6ef4" stroke-width="2.0"/>
<circle cx="715.8" cy="773.8" r="5.2" fill="none" stroke="#3d6ef4" stroke-width="2.0"/>
<circle cx="729.6" cy="767.3" r="5.2" fill="none" stroke="#3d6ef4" stroke-width="2.0"/>
<circle cx="740.4" cy="767.3" r="5.2" fill="none" stroke="#3d6ef4" stroke-width="2.0"/>
<circle cx="749.4" cy="767.3" r="5.2" fill="none" stroke="#3d6ef4" stroke-width="2.0"/>
<circle cx="756.6" cy="759.4" r="5.2" fill="none" stroke="#3d6ef4" stroke-width="2.0"/>
<circle cx="763.8" cy="759.4" r="5.2" fill="none" stroke="#3d6ef4" stroke-width="2.0"/>
<circle cx="770.3" cy="749.3" r="5.2" fill="none" stroke="#3d6ef4" stroke-width="2.0"/>
<circle cx="780.8" cy="746.7" r="5.2" fill="none" stroke="#3d6ef4" stroke-width="2.0"/>
<circle cx="794.5" cy="738.8" r="5.2" fill="none" stroke="#3d6ef4" stroke-width="2.0"/>
<circle cx="810.7" cy="731.6" r="5.2" fill="none" stroke="#3d6ef4" stroke-width="2.0"/>
<circle cx="824.4" cy="710.7" r="5.2" fill="none" stroke="#3d6ef4" stroke-width="2.0"/>
<circle cx="834.9" cy="703.4" r="5.2" fill="none" stroke="#3d6ef4" stroke-width="2.0"/>
<circle cx="843.9" cy="697.0" r="5.2" fill="none" stroke="#3d6ef4" stroke-width="2.0"/>
<circle cx="852.2" cy="689.0" r="5.2" fill="none" stroke="#3d6ef4" stroke-width="2.0"/>
<circle cx="858.7" cy="682.5" r="5.2" fill="none" stroke="#3d6ef4" stroke-width="2.0"/>
<circle cx="864.8" cy="675.7" r="5.2" fill="none" stroke="#3d6ef4" stroke-width="2.0"/>
<circle cx="870.2" cy="668.1" r="5.2" fill="none" stroke="#3d6ef4" stroke-width="2.0"/>
<circle cx="876.0" cy="654.0" r="5.2" fill="none" stroke="#3d6ef4" stroke-width="2.0"/>
<circle cx="881.1" cy="654.0" r="5.2" fill="none" stroke="#3d6ef4" stroke-width="2.0"/>
<circle cx="884.7" cy="639.6" r="5.2" fill="none" stroke="#3d6ef4" stroke-width="2.0"/>
<circle cx="889.4" cy="638.5" r="5.2" fill="none" stroke="#3d6ef4" stroke-width="2.0"/>
<circle cx="893.7" cy="632.4" r="5.2" fill="none" stroke="#3d6ef4" stroke-width="2.0"/>
<circle cx="896.6" cy="625.9" r="5.2" fill="none" stroke="#3d6ef4" stroke-width="2.0"/>
<circle cx="900.2" cy="625.2" r="5.2" fill="none" stroke="#3d6ef4" stroke-width="2.0"/>
<circle cx="902.7" cy="617.9" r="5.2" fill="none" stroke="#3d6ef4" stroke-width="2.0"/>
<circle cx="905.6" cy="611.5" r="5.2" fill="none" stroke="#3d6ef4" stroke-width="2.0"/>
<circle cx="909.2" cy="610.4" r="5.2" fill="none" stroke="#3d6ef4" stroke-width="2.0"/>
<circle cx="910.6" cy="603.5" r="5.2" fill="none" stroke="#3d6ef4" stroke-width="2.0"/>
<circle cx="914.3" cy="596.3" r="5.2" fill="none" stroke="#3d6ef4" stroke-width="2.0"/>
<circle cx="918.2" cy="596.3" r="5.2" fill="none" stroke="#3d6ef4" stroke-width="2.0"/>
<text x="644.50" y="672.20" font-size="24.6" fill="#d4900f">Band Filling</text>
<rect x="613.4" y="535.8" width="312.0" height="304.80000000000007" fill="none" stroke="#000" stroke-width="2"/>
<rect x="0" y="946" width="1081" height="383" fill="#000"/>
<rect x="74" y="953" width="926" height="376" fill="#fff"/>
<defs>
<linearGradient id="pg" x1="0" x2="1" y1="0" y2="0"><stop offset="0" stop-color="#7b3fb2" stop-opacity="0"/><stop offset="0.55" stop-color="#7b3fb2" stop-opacity="0.75"/><stop offset="1" stop-color="#7b3fb2" stop-opacity="1"/></linearGradient>
<filter id="gl" x="-50%" y="-50%" width="200%" height="200%"><feGaussianBlur stdDeviation="0.55"/></filter><filter id="gh" x="-50%" y="-50%" width="200%" height="200%"><feGaussianBlur stdDeviation="1.3"/></filter>
<marker id="ah" viewBox="0 0 10 10" refX="10" refY="5" markerWidth="7" markerHeight="7" markerUnits="userSpaceOnUse" orient="auto-start-reverse"><path d="M0,0 L10,5 L0,10 z" fill="#000"/></marker>
</defs>
<path d="M114.5,965.5 Q223.3,1160.3 332.2,965.5" fill="none" stroke="#000" stroke-width="2.6"/>
<path d="M114.5,1259.9 Q223.1,1065.1 331.7,1259.9" fill="none" stroke="#000" stroke-width="2.6"/>
<line x1="187.90" y1="1064.10" x2="256.10" y2="1064.10" stroke="#333" stroke-width="1.6"/>
<line x1="189.10" y1="1162.50" x2="257.30" y2="1162.50" stroke="#333" stroke-width="1.6"/>
<g filter="url(#gh)" opacity="0.45"><circle cx="221.6" cy="1059.9" r="5.6" fill="#2358cc"/></g>
<g filter="url(#gl)"><circle cx="221.6" cy="1059.9" r="4.6" fill="#2358cc"/></g>
<g filter="url(#gh)" opacity="0.45"><circle cx="221.6" cy="1166.2" r="5.6" fill="#f5a01e"/></g>
<g filter="url(#gl)"><circle cx="221.6" cy="1166.2" r="4.6" fill="#f5a01e"/></g>
<line x1="221.6" y1="1076" x2="221.6" y2="1151" stroke="#000" stroke-width="1.6"/>
<path d="M221.6,1065.5 L217.9,1077 L225.3,1077 z M221.6,1161.5 L217.9,1150 L225.3,1150 z" fill="#000"/>
<text x="189.6" y="1118.0" font-size="28" font-family="Liberation Serif" font-style="italic" fill="#404040">E</text>
<text x="204.6" y="1123.2" font-size="22" font-family="Liberation Serif" fill="#404040">g</text>
<text x="166.4" y="991.2" font-size="22.5" fill="#111" textLength="112.5" lengthAdjust="spacingAndGlyphs">Conduction</text>
<text x="175.2" y="1020.4" font-size="22.5" fill="#111" textLength="95.5" lengthAdjust="spacingAndGlyphs">band (CB)</text>
<text x="183.9" y="1218.7" font-size="22.5" fill="#111" textLength="75" lengthAdjust="spacingAndGlyphs">Valance</text>
<text x="173.2" y="1247.9" font-size="22.5" fill="#111" textLength="96.2" lengthAdjust="spacingAndGlyphs">band (VB)</text>
<text x="98.8" y="1221.2" font-size="21.5" fill="#111">E</text>
<text x="155.8" y="1281.1" font-size="21.5" fill="#111">k</text>
<path d="M104.2,1238 L104.2,1271.1 L137,1271.1" fill="none" stroke="#000" stroke-width="2.6" stroke-linejoin="round"/>
<path d="M104.2,1227.4 L100.3,1239 L108.1,1239 z M148.5,1271.1 L136.5,1267.1 L136.5,1275.1 z" fill="#000"/>
<path d="M412.5,966.1 Q523.0,1164.5 633.4,966.1" fill="none" stroke="#000" stroke-width="2.9" stroke-dasharray="2.7 3.0"/>
<path d="M412.5,980.9 Q523.0,1180.7 633.4,980.9" fill="none" stroke="#000" stroke-width="2.6"/>
<path d="M412.5,1262.1 Q523.0,1066.1 633.4,1262.1" fill="none" stroke="#000" stroke-width="2.9" stroke-dasharray="2.7 3.0"/>
<path d="M412.5,1247.3 Q523.0,1049.1 633.4,1247.3" fill="none" stroke="#000" stroke-width="2.6"/>
<line x1="522.40" y1="1080.80" x2="564.90" y2="1080.80" stroke="#333" stroke-width="1.6"/>
<line x1="522.40" y1="1148.20" x2="563.00" y2="1148.20" stroke="#333" stroke-width="1.6"/>
<line x1="547.2" y1="1092" x2="547.2" y2="1137" stroke="#000" stroke-width="1.6"/>
<path d="M547.2,1082 L543.6,1093 L550.8,1093 z M547.2,1147 L543.6,1136 L550.8,1136 z" fill="#000"/>
<path d="M522.4,1082 L522.4,1093" stroke="#888" stroke-width="3.2"/><path d="M522.4,1104 L516.8,1092 L528,1092 z" fill="#888"/>
<path d="M522.4,1147.5 L522.4,1136" stroke="#888" stroke-width="3.2"/><path d="M522.4,1124.5 L516.8,1137 L528,1137 z" fill="#888"/>
<g filter="url(#gh)" opacity="0.45"><circle cx="490.2" cy="1066.0" r="5.6" fill="#2358cc"/><circle cx="507.6" cy="1073.4" r="5.6" fill="#2358cc"/><circle cx="523.1" cy="1075.3" r="5.6" fill="#2358cc"/><circle cx="540.1" cy="1073.4" r="5.6" fill="#2358cc"/><circle cx="555.7" cy="1065.3" r="5.6" fill="#2358cc"/></g>
<g filter="url(#gl)"><circle cx="490.2" cy="1066.0" r="4.6" fill="#2358cc"/><circle cx="507.6" cy="1073.4" r="4.6" fill="#2358cc"/><circle cx="523.1" cy="1075.3" r="4.6" fill="#2358cc"/><circle cx="540.1" cy="1073.4" r="4.6" fill="#2358cc"/><circle cx="555.7" cy="1065.3" r="4.6" fill="#2358cc"/></g>
<g filter="url(#gh)" opacity="0.45"><circle cx="493.9" cy="1163.0" r="5.6" fill="#f5a01e"/><circle cx="507.6" cy="1156.7" r="5.6" fill="#f5a01e"/><circle cx="522.4" cy="1154.1" r="5.6" fill="#f5a01e"/><circle cx="538.3" cy="1156.7" r="5.6" fill="#f5a01e"/><circle cx="552.7" cy="1163.0" r="5.6" fill="#f5a01e"/></g>
<g filter="url(#gl)"><circle cx="493.9" cy="1163.0" r="4.6" fill="#f5a01e"/><circle cx="507.6" cy="1156.7" r="4.6" fill="#f5a01e"/><circle cx="522.4" cy="1154.1" r="4.6" fill="#f5a01e"/><circle cx="538.3" cy="1156.7" r="4.6" fill="#f5a01e"/><circle cx="552.7" cy="1163.0" r="4.6" fill="#f5a01e"/></g>
<path d="M428,1108.6 L461.3,1108.6 L461.3,1102.3 L485.4,1115.5 L461.3,1128.9 L461.3,1122.3 L428,1122.3 z" fill="url(#pg)"/>
<text x="318.4" y="1119.7" font-size="22.5" fill="#111" textLength="84.2" lengthAdjust="spacingAndGlyphs">Bandgap</text>
<text x="283.2" y="1149.3" font-size="22.5" fill="#111" textLength="154.6" lengthAdjust="spacingAndGlyphs">renormalization</text>
<text x="333.2" y="1176.3" font-size="22.5" fill="#111" textLength="54.6" lengthAdjust="spacingAndGlyphs">(BGR)</text>
<text x="554.8" y="1124.2" font-size="27.5" font-family="Liberation Serif" font-style="italic" fill="#404040">E</text>
<text x="569.8" y="1129.3" font-size="22" font-family="Liberation Serif" fill="#404040">g</text>
<text x="572.3" y="1115.0" font-size="19.5" font-family="Liberation Serif" fill="#404040" textLength="40" lengthAdjust="spacingAndGlyphs">BGR</text>
<path d="M717.0,966.2 Q826.5,1164.0 936.1,966.2" fill="none" stroke="#000" stroke-width="2.9" stroke-dasharray="2.7 3.0"/>
<path d="M717.0,981.6 Q826.5,1177.0 936.1,981.6" fill="none" stroke="#000" stroke-width="2.6"/>
<path d="M717.0,1262.9 Q826.5,1066.3 936.1,1262.9" fill="none" stroke="#000" stroke-width="2.9" stroke-dasharray="2.7 3.0"/>
<path d="M717.0,1248.1 Q826.5,1051.5 936.1,1248.1" fill="none" stroke="#000" stroke-width="2.6"/>
<g filter="url(#gh)" opacity="0.45"><circle cx="782.1" cy="1024.0" r="5.6" fill="#2358cc"/><circle cx="808.2" cy="1020.7" r="5.6" fill="#2358cc"/><circle cx="824.5" cy="1024.9" r="5.6" fill="#2358cc"/><circle cx="845.8" cy="1016.3" r="5.6" fill="#2358cc"/><circle cx="839.9" cy="1029.0" r="5.6" fill="#2358cc"/><circle cx="861.2" cy="1027.5" r="5.6" fill="#2358cc"/><circle cx="878.9" cy="1032.6" r="5.6" fill="#2358cc"/><circle cx="892.3" cy="1037.3" r="5.6" fill="#2358cc"/><circle cx="763.8" cy="1035.5" r="5.6" fill="#2358cc"/><circle cx="796.3" cy="1035.5" r="5.6" fill="#2358cc"/><circle cx="814.7" cy="1040.0" r="5.6" fill="#2358cc"/><circle cx="829.5" cy="1042.9" r="5.6" fill="#2358cc"/><circle cx="846.4" cy="1044.4" r="5.6" fill="#2358cc"/><circle cx="859.1" cy="1041.4" r="5.6" fill="#2358cc"/><circle cx="774.1" cy="1052.1" r="5.6" fill="#2358cc"/><circle cx="788.1" cy="1049.1" r="5.6" fill="#2358cc"/><circle cx="808.2" cy="1057.1" r="5.6" fill="#2358cc"/><circle cx="825.6" cy="1058.0" r="5.6" fill="#2358cc"/><circle cx="841.6" cy="1057.4" r="5.6" fill="#2358cc"/><circle cx="874.5" cy="1053.3" r="5.6" fill="#2358cc"/><circle cx="794.3" cy="1066.6" r="5.6" fill="#2358cc"/><circle cx="812.3" cy="1072.8" r="5.6" fill="#2358cc"/><circle cx="828.0" cy="1075.8" r="5.6" fill="#2358cc"/><circle cx="844.9" cy="1072.8" r="5.6" fill="#2358cc"/><circle cx="859.7" cy="1064.5" r="5.6" fill="#2358cc"/></g>
<g filter="url(#gl)"><circle cx="782.1" cy="1024.0" r="4.6" fill="#2358cc"/><circle cx="808.2" cy="1020.7" r="4.6" fill="#2358cc"/><circle cx="824.5" cy="1024.9" r="4.6" fill="#2358cc"/><circle cx="845.8" cy="1016.3" r="4.6" fill="#2358cc"/><circle cx="839.9" cy="1029.0" r="4.6" fill="#2358cc"/><circle cx="861.2" cy="1027.5" r="4.6" fill="#2358cc"/><circle cx="878.9" cy="1032.6" r="4.6" fill="#2358cc"/><circle cx="892.3" cy="1037.3" r="4.6" fill="#2358cc"/><circle cx="763.8" cy="1035.5" r="4.6" fill="#2358cc"/><circle cx="796.3" cy="1035.5" r="4.6" fill="#2358cc"/><circle cx="814.7" cy="1040.0" r="4.6" fill="#2358cc"/><circle cx="829.5" cy="1042.9" r="4.6" fill="#2358cc"/><circle cx="846.4" cy="1044.4" r="4.6" fill="#2358cc"/><circle cx="859.1" cy="1041.4" r="4.6" fill="#2358cc"/><circle cx="774.1" cy="1052.1" r="4.6" fill="#2358cc"/><circle cx="788.1" cy="1049.1" r="4.6" fill="#2358cc"/><circle cx="808.2" cy="1057.1" r="4.6" fill="#2358cc"/><circle cx="825.6" cy="1058.0" r="4.6" fill="#2358cc"/><circle cx="841.6" cy="1057.4" r="4.6" fill="#2358cc"/><circle cx="874.5" cy="1053.3" r="4.6" fill="#2358cc"/><circle cx="794.3" cy="1066.6" r="4.6" fill="#2358cc"/><circle cx="812.3" cy="1072.8" r="4.6" fill="#2358cc"/><circle cx="828.0" cy="1075.8" r="4.6" fill="#2358cc"/><circle cx="844.9" cy="1072.8" r="4.6" fill="#2358cc"/><circle cx="859.7" cy="1064.5" r="4.6" fill="#2358cc"/></g>
<g filter="url(#gh)" opacity="0.45"><circle cx="810.3" cy="1156.9" r="5.6" fill="#f5a01e"/><circle cx="825.1" cy="1154.8" r="5.6" fill="#f5a01e"/><circle cx="841.9" cy="1160.7" r="5.6" fill="#f5a01e"/><circle cx="855.5" cy="1162.8" r="5.6" fill="#f5a01e"/><circle cx="783.0" cy="1172.6" r="5.6" fill="#f5a01e"/><circle cx="798.4" cy="1168.1" r="5.6" fill="#f5a01e"/><circle cx="813.2" cy="1169.6" r="5.6" fill="#f5a01e"/><circle cx="830.4" cy="1173.5" r="5.6" fill="#f5a01e"/><circle cx="847.9" cy="1180.0" r="5.6" fill="#f5a01e"/><circle cx="874.5" cy="1177.9" r="5.6" fill="#f5a01e"/><circle cx="762.9" cy="1193.3" r="5.6" fill="#f5a01e"/><circle cx="780.7" cy="1187.4" r="5.6" fill="#f5a01e"/><circle cx="798.4" cy="1187.4" r="5.6" fill="#f5a01e"/><circle cx="817.7" cy="1185.3" r="5.6" fill="#f5a01e"/><circle cx="835.4" cy="1191.8" r="5.6" fill="#f5a01e"/><circle cx="861.2" cy="1189.8" r="5.6" fill="#f5a01e"/><circle cx="884.9" cy="1196.3" r="5.6" fill="#f5a01e"/><circle cx="787.2" cy="1201.6" r="5.6" fill="#f5a01e"/><circle cx="804.3" cy="1204.3" r="5.6" fill="#f5a01e"/><circle cx="821.2" cy="1201.6" r="5.6" fill="#f5a01e"/><circle cx="834.5" cy="1209.6" r="5.6" fill="#f5a01e"/><circle cx="852.3" cy="1206.0" r="5.6" fill="#f5a01e"/><circle cx="872.4" cy="1203.1" r="5.6" fill="#f5a01e"/></g>
<g filter="url(#gl)"><circle cx="810.3" cy="1156.9" r="4.6" fill="#f5a01e"/><circle cx="825.1" cy="1154.8" r="4.6" fill="#f5a01e"/><circle cx="841.9" cy="1160.7" r="4.6" fill="#f5a01e"/><circle cx="855.5" cy="1162.8" r="4.6" fill="#f5a01e"/><circle cx="783.0" cy="1172.6" r="4.6" fill="#f5a01e"/><circle cx="798.4" cy="1168.1" r="4.6" fill="#f5a01e"/><circle cx="813.2" cy="1169.6" r="4.6" fill="#f5a01e"/><circle cx="830.4" cy="1173.5" r="4.6" fill="#f5a01e"/><circle cx="847.9" cy="1180.0" r="4.6" fill="#f5a01e"/><circle cx="874.5" cy="1177.9" r="4.6" fill="#f5a01e"/><circle cx="762.9" cy="1193.3" r="4.6" fill="#f5a01e"/><circle cx="780.7" cy="1187.4" r="4.6" fill="#f5a01e"/><circle cx="798.4" cy="1187.4" r="4.6" fill="#f5a01e"/><circle cx="817.7" cy="1185.3" r="4.6" fill="#f5a01e"/><circle cx="835.4" cy="1191.8" r="4.6" fill="#f5a01e"/><circle cx="861.2" cy="1189.8" r="4.6" fill="#f5a01e"/><circle cx="884.9" cy="1196.3" r="4.6" fill="#f5a01e"/><circle cx="787.2" cy="1201.6" r="4.6" fill="#f5a01e"/><circle cx="804.3" cy="1204.3" r="4.6" fill="#f5a01e"/><circle cx="821.2" cy="1201.6" r="4.6" fill="#f5a01e"/><circle cx="834.5" cy="1209.6" r="4.6" fill="#f5a01e"/><circle cx="852.3" cy="1206.0" r="4.6" fill="#f5a01e"/><circle cx="872.4" cy="1203.1" r="4.6" fill="#f5a01e"/></g>
<line x1="897.6" y1="1039.4" x2="897.6" y2="1180" stroke="#c8101e" stroke-width="1.6"/>
<path d="M897.6,1189 L894.4,1178.5 L900.8,1178.5 z" fill="#c8101e"/>
<text x="852.6" y="1115.5" font-size="27.5" font-family="Liberation Serif" font-style="italic" fill="#c80a16">E</text>
<text x="867.6" y="1121.6" font-size="23" font-family="Liberation Serif" fill="#c80a16">ph</text>
<text x="787.5" y="989.0" font-size="22.5" fill="#111" textLength="120.5" lengthAdjust="spacingAndGlyphs">Band filling</text>
<text x="0" y="0" transform="translate(991,1111.2) rotate(-90)" textLength="105" lengthAdjust="spacingAndGlyphs" font-size="22.5" text-anchor="middle" fill="#111">Excitation</text>
<line x1="963.3" y1="1205.1" x2="963.3" y2="1027" stroke="#000" stroke-width="2.6"/>
<path d="M963.3,1015.7 L959.3,1028 L967.3,1028 z" fill="#000"/>
<text x="386.8" y="1301.0" font-size="23.3" fill="#111" textLength="272.5" lengthAdjust="spacingAndGlyphs">Increasing carrier density</text>
<line x1="331.1" y1="1312" x2="700" y2="1312" stroke="#000" stroke-width="2.4"/>
<path d="M711.1,1312 L697.8,1307.8 L697.8,1316.2 z" fill="#000"/>
</svg></body></html>
